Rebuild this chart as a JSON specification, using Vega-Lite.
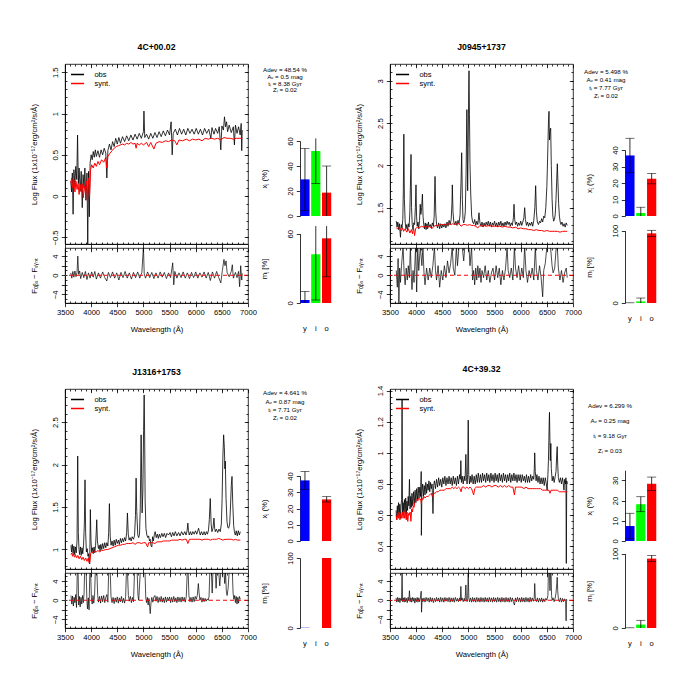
{
"$schema": "https://vega.github.io/schema/vega-lite/v6.json",
"background": "white",
"padding": {"left": 29, "top": 42, "right": 5, "bottom": 5},
"config": {
  "font": "Liberation Sans",
  "view": {"stroke": null},
  "axis": {"grid": false, "domainColor": "black", "domainWidth": 0.8, "tickColor": "black", "tickWidth": 0.8, "tickSize": 3.7, "labelColor": "black", "labelFontSize": 7.6, "labelPadding": 2, "titleColor": "black", "titleFontSize": 7.7, "titleFontWeight": "normal", "labelFont": "Liberation Sans", "titleFont": "Liberation Sans", "labelOverlap": false, "labelFlush": false},
  "legend": {"title": null, "orient": "top-left", "symbolType": "M-1,0H1.9", "symbolSize": 81, "symbolStrokeWidth": 1.5, "labelFontSize": 7.5, "labelFont": "Liberation Sans", "labelColor": "black", "labelOffset": 13.4, "rowPadding": 0, "padding": 0, "offset": 5},
  "title": {"fontSize": 8.7, "fontWeight": "bold", "offset": 12, "color": "black", "font": "Liberation Sans", "frame": "group"},
  "text": {"font": "Liberation Sans", "color": "black"}
},
"datasets": {
"o1": [{"w":3610,"f":0.18},{"w":3625,"f":0.05},{"w":3640,"f":0.28},{"w":3655,"f":-0.22},{"w":3670,"f":0.32},{"w":3690,"f":0.12},{"w":3705,"f":0.36},{"w":3725,"f":0.2},{"w":3740,"f":0.74},{"w":3755,"f":0.15},{"w":3770,"f":0.34},{"w":3790,"f":0.06},{"w":3810,"f":0.3},{"w":3830,"f":-0.14},{"w":3845,"f":0.26},{"w":3865,"f":0.1},{"w":3880,"f":0.34},{"w":3900,"f":-0.05},{"w":3920,"f":0.28},{"w":3935,"f":-0.58},{"w":3950,"f":0.3},{"w":3965,"f":-0.25},{"w":3980,"f":0.4},{"w":4000,"f":0.5},{"w":4020,"f":0.44},{"w":4040,"f":0.54},{"w":4060,"f":0.47},{"w":4080,"f":0.56},{"w":4100,"f":0.48},{"w":4130,"f":0.55},{"w":4160,"f":0.47},{"w":4190,"f":0.56},{"w":4220,"f":0.5},{"w":4250,"f":0.58},{"w":4280,"f":0.52},{"w":4300,"f":0.22},{"w":4320,"f":0.55},{"w":4350,"f":0.63},{"w":4380,"f":0.56},{"w":4410,"f":0.66},{"w":4440,"f":0.6},{"w":4470,"f":0.7},{"w":4500,"f":0.63},{"w":4530,"f":0.71},{"w":4560,"f":0.64},{"w":4600,"f":0.72},{"w":4640,"f":0.66},{"w":4680,"f":0.73},{"w":4720,"f":0.67},{"w":4760,"f":0.74},{"w":4800,"f":0.68},{"w":4840,"f":0.75},{"w":4880,"f":0.69},{"w":4920,"f":0.76},{"w":4960,"f":0.7},{"w":5000,"f":0.78},{"w":5010,"f":1.03},{"w":5025,"f":0.71},{"w":5060,"f":0.75},{"w":5100,"f":0.69},{"w":5140,"f":0.76},{"w":5180,"f":0.7},{"w":5220,"f":0.77},{"w":5260,"f":0.71},{"w":5300,"f":0.78},{"w":5340,"f":0.72},{"w":5380,"f":0.79},{"w":5420,"f":0.73},{"w":5460,"f":0.8},{"w":5500,"f":0.74},{"w":5530,"f":0.9},{"w":5550,"f":0.5},{"w":5570,"f":0.76},{"w":5610,"f":0.81},{"w":5650,"f":0.74},{"w":5690,"f":0.82},{"w":5730,"f":0.75},{"w":5770,"f":0.81},{"w":5810,"f":0.74},{"w":5850,"f":0.82},{"w":5890,"f":0.76},{"w":5930,"f":0.81},{"w":5970,"f":0.75},{"w":6010,"f":0.82},{"w":6050,"f":0.75},{"w":6090,"f":0.81},{"w":6130,"f":0.74},{"w":6170,"f":0.82},{"w":6210,"f":0.76},{"w":6250,"f":0.81},{"w":6290,"f":0.7},{"w":6310,"f":0.83},{"w":6350,"f":0.75},{"w":6380,"f":0.82},{"w":6420,"f":0.76},{"w":6450,"f":0.84},{"w":6480,"f":0.56},{"w":6500,"f":0.85},{"w":6530,"f":0.8},{"w":6550,"f":0.96},{"w":6570,"f":0.84},{"w":6590,"f":0.9},{"w":6610,"f":0.78},{"w":6640,"f":0.86},{"w":6680,"f":0.77},{"w":6720,"f":0.84},{"w":6740,"f":0.62},{"w":6760,"f":0.86},{"w":6790,"f":0.76},{"w":6820,"f":0.84},{"w":6850,"f":0.74},{"w":6870,"f":0.88},{"w":6880,"f":0.55},{"w":6890,"f":0.8}],
"s1": [{"w":3610,"f":0.16},{"w":3630,"f":0.22},{"w":3650,"f":0.1},{"w":3670,"f":0.2},{"w":3690,"f":0.05},{"w":3710,"f":0.18},{"w":3730,"f":0.08},{"w":3750,"f":0.15},{"w":3770,"f":0.02},{"w":3790,"f":0.14},{"w":3810,"f":0.05},{"w":3830,"f":0.15},{"w":3850,"f":-0.02},{"w":3870,"f":0.12},{"w":3890,"f":0.04},{"w":3910,"f":0.18},{"w":3930,"f":-0.08},{"w":3950,"f":0.22},{"w":3970,"f":0.0},{"w":3990,"f":0.32},{"w":4010,"f":0.38},{"w":4040,"f":0.34},{"w":4070,"f":0.4},{"w":4100,"f":0.36},{"w":4130,"f":0.42},{"w":4160,"f":0.38},{"w":4200,"f":0.44},{"w":4240,"f":0.41},{"w":4280,"f":0.47},{"w":4300,"f":0.34},{"w":4320,"f":0.48},{"w":4360,"f":0.52},{"w":4400,"f":0.55},{"w":4440,"f":0.58},{"w":4480,"f":0.6},{"w":4520,"f":0.61},{"w":4560,"f":0.62},{"w":4600,"f":0.63},{"w":4640,"f":0.62},{"w":4680,"f":0.64},{"w":4720,"f":0.63},{"w":4760,"f":0.65},{"w":4800,"f":0.63},{"w":4840,"f":0.64},{"w":4860,"f":0.58},{"w":4880,"f":0.64},{"w":4920,"f":0.62},{"w":4960,"f":0.64},{"w":5000,"f":0.62},{"w":5060,"f":0.65},{"w":5100,"f":0.6},{"w":5140,"f":0.65},{"w":5200,"f":0.57},{"w":5240,"f":0.64},{"w":5300,"f":0.66},{"w":5360,"f":0.65},{"w":5420,"f":0.67},{"w":5480,"f":0.66},{"w":5540,"f":0.68},{"w":5600,"f":0.67},{"w":5640,"f":0.62},{"w":5680,"f":0.68},{"w":5750,"f":0.67},{"w":5820,"f":0.69},{"w":5880,"f":0.67},{"w":5940,"f":0.69},{"w":6000,"f":0.68},{"w":6060,"f":0.69},{"w":6120,"f":0.67},{"w":6180,"f":0.7},{"w":6240,"f":0.69},{"w":6300,"f":0.7},{"w":6360,"f":0.69},{"w":6420,"f":0.7},{"w":6480,"f":0.68},{"w":6540,"f":0.71},{"w":6600,"f":0.7},{"w":6660,"f":0.7},{"w":6720,"f":0.69},{"w":6780,"f":0.7},{"w":6840,"f":0.7},{"w":6890,"f":0.7}],
"r1": [{"w":3610,"r":0.5},{"w":3630,"r":-0.6},{"w":3650,"r":0.8},{"w":3670,"r":-0.4},{"w":3690,"r":0.9},{"w":3710,"r":-0.3},{"w":3730,"r":0.6},{"w":3745,"r":4.0},{"w":3760,"r":0.2},{"w":3780,"r":0.9},{"w":3800,"r":-0.7},{"w":3830,"r":0.6},{"w":3860,"r":-0.5},{"w":3890,"r":0.8},{"w":3920,"r":-0.9},{"w":3950,"r":0.5},{"w":3980,"r":-0.6},{"w":4010,"r":0.7},{"w":4040,"r":-0.4},{"w":4070,"r":0.8},{"w":4100,"r":-0.8},{"w":4140,"r":0.5},{"w":4180,"r":-0.6},{"w":4220,"r":0.7},{"w":4260,"r":-0.5},{"w":4300,"r":-1.2},{"w":4330,"r":0.6},{"w":4370,"r":-0.5},{"w":4410,"r":0.7},{"w":4450,"r":-0.6},{"w":4490,"r":0.5},{"w":4530,"r":-1.0},{"w":4570,"r":0.6},{"w":4610,"r":-0.5},{"w":4650,"r":0.8},{"w":4690,"r":-0.6},{"w":4730,"r":0.5},{"w":4770,"r":-0.8},{"w":4810,"r":0.6},{"w":4850,"r":-0.5},{"w":4890,"r":0.7},{"w":4930,"r":-0.6},{"w":4970,"r":0.6},{"w":5000,"r":6.0},{"w":5015,"r":0.3},{"w":5040,"r":-0.6},{"w":5080,"r":0.7},{"w":5120,"r":-0.5},{"w":5160,"r":0.6},{"w":5200,"r":-0.7},{"w":5240,"r":0.5},{"w":5280,"r":-0.6},{"w":5320,"r":0.7},{"w":5360,"r":-0.4},{"w":5400,"r":0.6},{"w":5440,"r":-0.7},{"w":5480,"r":0.5},{"w":5520,"r":-0.5},{"w":5560,"r":2.6},{"w":5580,"r":-2.0},{"w":5600,"r":0.8},{"w":5640,"r":-0.6},{"w":5680,"r":0.5},{"w":5720,"r":-0.5},{"w":5760,"r":0.7},{"w":5800,"r":-0.6},{"w":5840,"r":0.5},{"w":5880,"r":-0.7},{"w":5920,"r":0.6},{"w":5960,"r":-0.5},{"w":6000,"r":0.7},{"w":6040,"r":-0.6},{"w":6080,"r":0.5},{"w":6120,"r":-0.4},{"w":6160,"r":0.7},{"w":6200,"r":-0.6},{"w":6240,"r":0.6},{"w":6280,"r":-1.1},{"w":6320,"r":0.7},{"w":6360,"r":-0.6},{"w":6400,"r":0.8},{"w":6440,"r":-0.5},{"w":6480,"r":-1.6},{"w":6510,"r":1.0},{"w":6540,"r":3.3},{"w":6560,"r":2.0},{"w":6580,"r":3.0},{"w":6600,"r":0.6},{"w":6640,"r":-0.3},{"w":6680,"r":0.8},{"w":6700,"r":2.2},{"w":6720,"r":-0.6},{"w":6760,"r":0.6},{"w":6790,"r":-0.5},{"w":6820,"r":0.8},{"w":6840,"r":-2.4},{"w":6860,"r":2.0},{"w":6880,"r":-1.0},{"w":6890,"r":0.4}],
"x1": [{"c":"y","v":29.3,"lo":4.5,"hi":54.1,"clo":4.5,"chi":54.1},{"c":"i","v":52,"lo":25.9,"hi":62.1,"clo":25.9},{"c":"o","v":18.7,"lo":0,"hi":40,"chi":40}],
"m1": [{"c":"y","v":2.6,"lo":0,"hi":10,"chi":10},{"c":"i","v":42.2,"lo":2.6,"hi":66.6,"clo":2.6},{"c":"o","v":56,"lo":22.7,"hi":66.6,"clo":22.7}],
"t1": [{"n":1,"t":"Adev = 48.54 %"},{"n":2,"t":"Aᵥ = 0.5 mag"},{"n":3,"t":"tₗ = 8.38 Gyr"},{"n":4,"t":"Zₗ = 0.02"}],
"o2": [{"w":3620,"f":1.34},{"w":3635,"f":1.27},{"w":3650,"f":1.33},{"w":3665,"f":1.24},{"w":3680,"f":1.31},{"w":3700,"f":1.15},{"w":3715,"f":1.3},{"w":3730,"f":1.26},{"w":3745,"f":1.36},{"w":3755,"f":1.7},{"w":3765,"f":2.37},{"w":3775,"f":1.6},{"w":3790,"f":1.33},{"w":3805,"f":1.25},{"w":3820,"f":1.3},{"w":3835,"f":1.23},{"w":3850,"f":1.31},{"w":3865,"f":1.27},{"w":3880,"f":1.45},{"w":3895,"f":1.9},{"w":3902,"f":2.13},{"w":3912,"f":1.5},{"w":3925,"f":1.3},{"w":3940,"f":1.24},{"w":3955,"f":1.32},{"w":3970,"f":1.3},{"w":3985,"f":1.5},{"w":3997,"f":1.77},{"w":4008,"f":1.4},{"w":4020,"f":1.28},{"w":4035,"f":1.33},{"w":4050,"f":1.25},{"w":4065,"f":1.35},{"w":4078,"f":1.54},{"w":4090,"f":1.42},{"w":4105,"f":1.5},{"w":4120,"f":1.66},{"w":4132,"f":1.4},{"w":4145,"f":1.3},{"w":4160,"f":1.25},{"w":4175,"f":1.32},{"w":4190,"f":1.24},{"w":4205,"f":1.31},{"w":4220,"f":1.25},{"w":4235,"f":1.33},{"w":4250,"f":1.27},{"w":4270,"f":1.3},{"w":4290,"f":1.26},{"w":4310,"f":1.32},{"w":4330,"f":1.28},{"w":4345,"f":1.4},{"w":4361,"f":1.87},{"w":4375,"f":1.45},{"w":4390,"f":1.3},{"w":4410,"f":1.26},{"w":4430,"f":1.32},{"w":4450,"f":1.25},{"w":4470,"f":1.31},{"w":4490,"f":1.26},{"w":4510,"f":1.3},{"w":4530,"f":1.27},{"w":4550,"f":1.31},{"w":4570,"f":1.26},{"w":4590,"f":1.33},{"w":4610,"f":1.28},{"w":4630,"f":1.35},{"w":4650,"f":1.3},{"w":4670,"f":1.36},{"w":4685,"f":1.55},{"w":4692,"f":1.77},{"w":4705,"f":1.45},{"w":4720,"f":1.33},{"w":4740,"f":1.3},{"w":4760,"f":1.34},{"w":4780,"f":1.29},{"w":4800,"f":1.35},{"w":4820,"f":1.31},{"w":4840,"f":1.42},{"w":4858,"f":1.8},{"w":4871,"f":2.15},{"w":4884,"f":1.6},{"w":4896,"f":1.36},{"w":4910,"f":1.32},{"w":4925,"f":1.36},{"w":4940,"f":1.45},{"w":4955,"f":1.9},{"w":4970,"f":2.66},{"w":4978,"f":2.3},{"w":4985,"f":1.7},{"w":4995,"f":2.2},{"w":5005,"f":2.9},{"w":5011,"f":3.12},{"w":5020,"f":2.6},{"w":5030,"f":2.01},{"w":5045,"f":1.65},{"w":5062,"f":1.4},{"w":5080,"f":1.33},{"w":5100,"f":1.31},{"w":5120,"f":1.36},{"w":5140,"f":1.29},{"w":5160,"f":1.34},{"w":5180,"f":1.3},{"w":5202,"f":1.44},{"w":5220,"f":1.32},{"w":5240,"f":1.28},{"w":5260,"f":1.33},{"w":5280,"f":1.27},{"w":5300,"f":1.32},{"w":5320,"f":1.28},{"w":5340,"f":1.33},{"w":5360,"f":1.29},{"w":5380,"f":1.34},{"w":5400,"f":1.28},{"w":5420,"f":1.33},{"w":5440,"f":1.27},{"w":5460,"f":1.32},{"w":5480,"f":1.29},{"w":5500,"f":1.34},{"w":5520,"f":1.28},{"w":5540,"f":1.32},{"w":5560,"f":1.27},{"w":5580,"f":1.33},{"w":5600,"f":1.29},{"w":5620,"f":1.34},{"w":5640,"f":1.28},{"w":5660,"f":1.32},{"w":5680,"f":1.28},{"w":5700,"f":1.33},{"w":5720,"f":1.29},{"w":5740,"f":1.34},{"w":5760,"f":1.3},{"w":5780,"f":1.33},{"w":5800,"f":1.28},{"w":5820,"f":1.32},{"w":5840,"f":1.29},{"w":5860,"f":1.38},{"w":5872,"f":1.54},{"w":5885,"f":1.36},{"w":5900,"f":1.3},{"w":5920,"f":1.33},{"w":5940,"f":1.28},{"w":5960,"f":1.32},{"w":5980,"f":1.29},{"w":6000,"f":1.34},{"w":6020,"f":1.29},{"w":6040,"f":1.33},{"w":6060,"f":1.38},{"w":6076,"f":1.5},{"w":6090,"f":1.36},{"w":6110,"f":1.29},{"w":6130,"f":1.33},{"w":6150,"f":1.28},{"w":6170,"f":1.32},{"w":6190,"f":1.29},{"w":6210,"f":1.33},{"w":6230,"f":1.28},{"w":6250,"f":1.35},{"w":6270,"f":1.5},{"w":6286,"f":1.76},{"w":6300,"f":1.45},{"w":6318,"f":1.33},{"w":6340,"f":1.3},{"w":6360,"f":1.34},{"w":6380,"f":1.32},{"w":6400,"f":1.37},{"w":6420,"f":1.33},{"w":6440,"f":1.4},{"w":6460,"f":1.38},{"w":6480,"f":1.5},{"w":6500,"f":1.75},{"w":6515,"f":2.1},{"w":6530,"f":2.5},{"w":6541,"f":2.64},{"w":6550,"f":2.3},{"w":6560,"f":2.4},{"w":6573,"f":2.44},{"w":6585,"f":2.0},{"w":6600,"f":1.6},{"w":6615,"f":1.4},{"w":6630,"f":1.34},{"w":6645,"f":1.36},{"w":6660,"f":1.42},{"w":6675,"f":1.6},{"w":6690,"f":1.85},{"w":6700,"f":2.02},{"w":6712,"f":1.8},{"w":6725,"f":1.55},{"w":6740,"f":1.4},{"w":6755,"f":1.33},{"w":6770,"f":1.3},{"w":6790,"f":1.33},{"w":6810,"f":1.28},{"w":6830,"f":1.31},{"w":6850,"f":1.27},{"w":6870,"f":1.32},{"w":6890,"f":1.29}],
"s2": [{"w":3620,"f":1.26},{"w":3650,"f":1.25},{"w":3680,"f":1.27},{"w":3700,"f":1.24},{"w":3720,"f":1.23},{"w":3740,"f":1.26},{"w":3760,"f":1.22},{"w":3790,"f":1.25},{"w":3820,"f":1.21},{"w":3850,"f":1.25},{"w":3880,"f":1.2},{"w":3910,"f":1.24},{"w":3930,"f":1.19},{"w":3950,"f":1.26},{"w":3970,"f":1.17},{"w":3990,"f":1.25},{"w":4020,"f":1.27},{"w":4060,"f":1.26},{"w":4100,"f":1.28},{"w":4140,"f":1.27},{"w":4180,"f":1.28},{"w":4220,"f":1.27},{"w":4260,"f":1.28},{"w":4300,"f":1.25},{"w":4340,"f":1.28},{"w":4380,"f":1.29},{"w":4420,"f":1.29},{"w":4460,"f":1.3},{"w":4500,"f":1.3},{"w":4540,"f":1.3},{"w":4580,"f":1.3},{"w":4620,"f":1.31},{"w":4660,"f":1.3},{"w":4700,"f":1.31},{"w":4740,"f":1.3},{"w":4780,"f":1.31},{"w":4820,"f":1.31},{"w":4860,"f":1.28},{"w":4900,"f":1.3},{"w":4940,"f":1.3},{"w":4980,"f":1.29},{"w":5020,"f":1.3},{"w":5060,"f":1.29},{"w":5100,"f":1.29},{"w":5140,"f":1.28},{"w":5180,"f":1.26},{"w":5220,"f":1.29},{"w":5260,"f":1.28},{"w":5300,"f":1.29},{"w":5350,"f":1.28},{"w":5400,"f":1.29},{"w":5450,"f":1.28},{"w":5500,"f":1.28},{"w":5550,"f":1.28},{"w":5600,"f":1.28},{"w":5650,"f":1.27},{"w":5700,"f":1.28},{"w":5750,"f":1.27},{"w":5800,"f":1.27},{"w":5850,"f":1.26},{"w":5900,"f":1.27},{"w":5950,"f":1.25},{"w":6000,"f":1.26},{"w":6050,"f":1.25},{"w":6100,"f":1.25},{"w":6150,"f":1.24},{"w":6200,"f":1.24},{"w":6250,"f":1.23},{"w":6300,"f":1.24},{"w":6350,"f":1.23},{"w":6400,"f":1.23},{"w":6450,"f":1.22},{"w":6500,"f":1.23},{"w":6550,"f":1.22},{"w":6600,"f":1.22},{"w":6650,"f":1.22},{"w":6700,"f":1.22},{"w":6750,"f":1.21},{"w":6800,"f":1.22},{"w":6850,"f":1.22},{"w":6890,"f":1.22}],
"r2": [{"w":3620,"r":1.0},{"w":3640,"r":-2.5},{"w":3655,"r":3.5},{"w":3670,"r":-5.8},{"w":3685,"r":1.5},{"w":3700,"r":-1.5},{"w":3720,"r":2.0},{"w":3750,"r":6.0},{"w":3770,"r":0.5},{"w":3790,"r":-2.0},{"w":3810,"r":1.5},{"w":3830,"r":-1.0},{"w":3850,"r":2.0},{"w":3870,"r":-0.5},{"w":3890,"r":6.0},{"w":3905,"r":0.5},{"w":3920,"r":-3.0},{"w":3940,"r":1.0},{"w":3960,"r":-1.5},{"w":3990,"r":6.0},{"w":4010,"r":-3.5},{"w":4030,"r":6.0},{"w":4050,"r":1.0},{"w":4080,"r":6.0},{"w":4110,"r":2.0},{"w":4130,"r":6.0},{"w":4150,"r":0.5},{"w":4170,"r":-2.0},{"w":4200,"r":1.5},{"w":4230,"r":-1.0},{"w":4260,"r":1.5},{"w":4290,"r":-0.5},{"w":4320,"r":2.0},{"w":4350,"r":6.0},{"w":4370,"r":1.0},{"w":4390,"r":-1.0},{"w":4420,"r":2.0},{"w":4450,"r":-2.5},{"w":4480,"r":1.0},{"w":4510,"r":-1.0},{"w":4540,"r":2.0},{"w":4570,"r":-0.5},{"w":4600,"r":3.0},{"w":4630,"r":0.5},{"w":4660,"r":2.5},{"w":4690,"r":6.0},{"w":4710,"r":1.5},{"w":4740,"r":0.0},{"w":4770,"r":6.0},{"w":4790,"r":2.0},{"w":4820,"r":6.0},{"w":4850,"r":6.0},{"w":4880,"r":6.0},{"w":4910,"r":3.0},{"w":4930,"r":6.0},{"w":4960,"r":6.0},{"w":4990,"r":6.0},{"w":5010,"r":6.0},{"w":5030,"r":2.0},{"w":5060,"r":6.0},{"w":5080,"r":-1.0},{"w":5100,"r":1.0},{"w":5120,"r":-2.0},{"w":5140,"r":1.5},{"w":5160,"r":-1.0},{"w":5180,"r":2.0},{"w":5200,"r":-0.5},{"w":5220,"r":1.5},{"w":5240,"r":-1.5},{"w":5260,"r":1.0},{"w":5290,"r":-0.5},{"w":5320,"r":2.0},{"w":5350,"r":-1.0},{"w":5380,"r":1.0},{"w":5410,"r":-1.5},{"w":5440,"r":0.5},{"w":5470,"r":1.5},{"w":5500,"r":-1.0},{"w":5530,"r":2.0},{"w":5560,"r":-0.5},{"w":5590,"r":1.5},{"w":5620,"r":-2.0},{"w":5650,"r":1.0},{"w":5680,"r":-1.0},{"w":5710,"r":1.5},{"w":5740,"r":6.0},{"w":5760,"r":1.0},{"w":5790,"r":-0.5},{"w":5820,"r":1.5},{"w":5850,"r":-1.0},{"w":5880,"r":6.0},{"w":5900,"r":1.5},{"w":5930,"r":-0.5},{"w":5960,"r":2.0},{"w":5990,"r":-1.0},{"w":6020,"r":1.5},{"w":6050,"r":-0.5},{"w":6075,"r":6.0},{"w":6100,"r":1.0},{"w":6130,"r":-1.5},{"w":6160,"r":1.0},{"w":6190,"r":-0.5},{"w":6220,"r":1.5},{"w":6250,"r":-1.0},{"w":6280,"r":6.0},{"w":6300,"r":1.0},{"w":6330,"r":-1.0},{"w":6360,"r":2.0},{"w":6390,"r":-0.5},{"w":6420,"r":-4.5},{"w":6440,"r":1.0},{"w":6470,"r":2.5},{"w":6500,"r":6.0},{"w":6520,"r":6.0},{"w":6545,"r":6.0},{"w":6570,"r":6.0},{"w":6600,"r":2.0},{"w":6620,"r":0.5},{"w":6650,"r":1.5},{"w":6680,"r":6.0},{"w":6700,"r":6.0},{"w":6720,"r":1.5},{"w":6750,"r":-1.0},{"w":6780,"r":1.0},{"w":6810,"r":-1.5},{"w":6840,"r":0.5},{"w":6870,"r":1.5},{"w":6890,"r":-0.5}],
"x2": [{"c":"y","v":36.7,"lo":26.2,"hi":47.1,"clo":26.2,"chi":47.1},{"c":"i","v":1.8,"lo":0,"hi":5.3,"chi":5.3},{"c":"o","v":22.6,"lo":19.5,"hi":25.8,"clo":19.5,"chi":25.8}],
"m2": [{"c":"y","v":0,"lo":0,"hi":0.3,"chi":0.3},{"c":"i","v":2.2,"lo":0,"hi":6.9,"chi":6.9},{"c":"o","v":96.3,"lo":92.1,"hi":100.5,"clo":92.1,"chi":100.5}],
"t2": [{"n":1,"t":"Adev = 5.498 %"},{"n":2,"t":"Aᵥ = 0.41 mag"},{"n":3,"t":"tₗ = 7.77 Gyr"},{"n":4,"t":"Zₗ = 0.02"}],
"o3": [{"w":3615,"f":1.05},{"w":3625,"f":0.97},{"w":3640,"f":1.06},{"w":3655,"f":0.95},{"w":3670,"f":1.04},{"w":3685,"f":0.94},{"w":3700,"f":1.03},{"w":3715,"f":0.96},{"w":3730,"f":1.1},{"w":3743,"f":2.1},{"w":3755,"f":1.2},{"w":3768,"f":1.0},{"w":3780,"f":0.94},{"w":3795,"f":1.03},{"w":3810,"f":0.93},{"w":3825,"f":1.02},{"w":3840,"f":0.95},{"w":3855,"f":1.05},{"w":3870,"f":1.3},{"w":3883,"f":1.82},{"w":3895,"f":1.2},{"w":3909,"f":0.97},{"w":3925,"f":1.01},{"w":3940,"f":0.92},{"w":3952,"f":0.95},{"w":3960,"f":0.87},{"w":3973,"f":0.83},{"w":3985,"f":1.47},{"w":3997,"f":1.1},{"w":4011,"f":0.97},{"w":4025,"f":1.02},{"w":4040,"f":0.95},{"w":4055,"f":1.03},{"w":4070,"f":0.96},{"w":4085,"f":1.05},{"w":4097,"f":1.2},{"w":4107,"f":1.35},{"w":4120,"f":1.1},{"w":4139,"f":1.01},{"w":4155,"f":1.05},{"w":4170,"f":0.98},{"w":4185,"f":1.06},{"w":4203,"f":1.0},{"w":4220,"f":1.07},{"w":4240,"f":1.01},{"w":4260,"f":1.08},{"w":4280,"f":1.02},{"w":4300,"f":1.08},{"w":4320,"f":1.04},{"w":4335,"f":1.2},{"w":4349,"f":1.54},{"w":4365,"f":1.15},{"w":4381,"f":1.05},{"w":4400,"f":1.1},{"w":4420,"f":1.04},{"w":4440,"f":1.11},{"w":4460,"f":1.05},{"w":4480,"f":1.12},{"w":4500,"f":1.07},{"w":4522,"f":1.11},{"w":4540,"f":1.06},{"w":4560,"f":1.13},{"w":4580,"f":1.08},{"w":4600,"f":1.13},{"w":4620,"f":1.09},{"w":4640,"f":1.14},{"w":4660,"f":1.1},{"w":4680,"f":1.2},{"w":4694,"f":1.43},{"w":4710,"f":1.18},{"w":4726,"f":1.11},{"w":4745,"f":1.14},{"w":4765,"f":1.1},{"w":4785,"f":1.15},{"w":4809,"f":1.12},{"w":4830,"f":1.16},{"w":4848,"f":1.4},{"w":4860,"f":1.84},{"w":4872,"f":1.45},{"w":4892,"f":1.17},{"w":4910,"f":1.14},{"w":4925,"f":1.18},{"w":4940,"f":1.5},{"w":4956,"f":2.35},{"w":4965,"f":1.9},{"w":4975,"f":1.43},{"w":4990,"f":1.7},{"w":5003,"f":2.4},{"w":5014,"f":2.82},{"w":5024,"f":2.3},{"w":5033,"f":1.57},{"w":5048,"f":1.25},{"w":5065,"f":1.17},{"w":5085,"f":1.14},{"w":5100,"f":1.16},{"w":5115,"f":1.1},{"w":5129,"f":1.12},{"w":5145,"f":1.04},{"w":5161,"f":1.03},{"w":5175,"f":1.15},{"w":5190,"f":1.1},{"w":5210,"f":1.18},{"w":5225,"f":1.21},{"w":5245,"f":1.14},{"w":5265,"f":1.18},{"w":5285,"f":1.13},{"w":5305,"f":1.18},{"w":5325,"f":1.14},{"w":5352,"f":1.19},{"w":5375,"f":1.15},{"w":5400,"f":1.19},{"w":5425,"f":1.14},{"w":5450,"f":1.19},{"w":5480,"f":1.17},{"w":5510,"f":1.2},{"w":5535,"f":1.15},{"w":5560,"f":1.2},{"w":5585,"f":1.16},{"w":5610,"f":1.21},{"w":5640,"f":1.16},{"w":5672,"f":1.2},{"w":5700,"f":1.16},{"w":5730,"f":1.21},{"w":5760,"f":1.17},{"w":5790,"f":1.21},{"w":5815,"f":1.17},{"w":5835,"f":1.22},{"w":5850,"f":1.31},{"w":5862,"f":1.22},{"w":5876,"f":1.17},{"w":5900,"f":1.21},{"w":5920,"f":1.17},{"w":5945,"f":1.21},{"w":5970,"f":1.18},{"w":5995,"f":1.22},{"w":6020,"f":1.18},{"w":6040,"f":1.22},{"w":6055,"f":1.25},{"w":6070,"f":1.21},{"w":6087,"f":1.17},{"w":6110,"f":1.21},{"w":6135,"f":1.17},{"w":6160,"f":1.21},{"w":6183,"f":1.17},{"w":6205,"f":1.21},{"w":6225,"f":1.18},{"w":6245,"f":1.23},{"w":6260,"f":1.35},{"w":6278,"f":1.6},{"w":6295,"f":1.3},{"w":6310,"f":1.21},{"w":6330,"f":1.25},{"w":6349,"f":1.37},{"w":6362,"f":1.25},{"w":6374,"f":1.21},{"w":6395,"f":1.24},{"w":6420,"f":1.2},{"w":6445,"f":1.24},{"w":6470,"f":1.21},{"w":6490,"f":1.3},{"w":6505,"f":1.6},{"w":6520,"f":2.1},{"w":6534,"f":2.35},{"w":6548,"f":2.2},{"w":6558,"f":1.95},{"w":6566,"f":2.04},{"w":6580,"f":1.6},{"w":6598,"f":1.33},{"w":6614,"f":1.26},{"w":6630,"f":1.25},{"w":6650,"f":1.3},{"w":6665,"f":1.5},{"w":6680,"f":1.75},{"w":6694,"f":1.86},{"w":6708,"f":1.55},{"w":6726,"f":1.28},{"w":6740,"f":1.21},{"w":6757,"f":1.17},{"w":6775,"f":1.22},{"w":6795,"f":1.16},{"w":6815,"f":1.22},{"w":6835,"f":1.17},{"w":6853,"f":1.21}],
"s3": [{"w":3615,"f":0.94},{"w":3630,"f":0.96},{"w":3645,"f":0.92},{"w":3660,"f":0.95},{"w":3680,"f":0.91},{"w":3700,"f":0.94},{"w":3720,"f":0.9},{"w":3745,"f":0.93},{"w":3770,"f":0.89},{"w":3795,"f":0.92},{"w":3820,"f":0.88},{"w":3845,"f":0.91},{"w":3870,"f":0.87},{"w":3895,"f":0.9},{"w":3920,"f":0.86},{"w":3945,"f":0.9},{"w":3960,"f":0.84},{"w":3975,"f":0.85},{"w":3990,"f":0.95},{"w":4010,"f":0.97},{"w":4040,"f":0.96},{"w":4070,"f":0.98},{"w":4100,"f":0.97},{"w":4130,"f":0.99},{"w":4160,"f":0.97},{"w":4200,"f":0.99},{"w":4240,"f":0.99},{"w":4280,"f":1.0},{"w":4320,"f":1.0},{"w":4360,"f":1.01},{"w":4400,"f":1.02},{"w":4440,"f":1.03},{"w":4480,"f":1.04},{"w":4520,"f":1.05},{"w":4560,"f":1.05},{"w":4600,"f":1.06},{"w":4640,"f":1.06},{"w":4680,"f":1.07},{"w":4720,"f":1.07},{"w":4760,"f":1.07},{"w":4800,"f":1.08},{"w":4840,"f":1.06},{"w":4880,"f":1.08},{"w":4920,"f":1.08},{"w":4960,"f":1.07},{"w":5000,"f":1.08},{"w":5040,"f":1.08},{"w":5080,"f":1.03},{"w":5100,"f":1.08},{"w":5140,"f":1.08},{"w":5180,"f":1.08},{"w":5220,"f":1.07},{"w":5260,"f":1.09},{"w":5300,"f":1.09},{"w":5340,"f":1.09},{"w":5380,"f":1.1},{"w":5420,"f":1.1},{"w":5460,"f":1.1},{"w":5500,"f":1.1},{"w":5540,"f":1.11},{"w":5580,"f":1.11},{"w":5620,"f":1.11},{"w":5660,"f":1.11},{"w":5700,"f":1.12},{"w":5740,"f":1.11},{"w":5780,"f":1.12},{"w":5820,"f":1.12},{"w":5850,"f":1.07},{"w":5880,"f":1.12},{"w":5920,"f":1.12},{"w":5960,"f":1.12},{"w":6000,"f":1.12},{"w":6040,"f":1.12},{"w":6080,"f":1.12},{"w":6120,"f":1.11},{"w":6160,"f":1.12},{"w":6200,"f":1.12},{"w":6240,"f":1.12},{"w":6280,"f":1.11},{"w":6320,"f":1.12},{"w":6360,"f":1.12},{"w":6400,"f":1.12},{"w":6440,"f":1.13},{"w":6480,"f":1.12},{"w":6520,"f":1.11},{"w":6560,"f":1.12},{"w":6600,"f":1.12},{"w":6640,"f":1.12},{"w":6680,"f":1.12},{"w":6720,"f":1.11},{"w":6760,"f":1.12},{"w":6800,"f":1.11},{"w":6853,"f":1.11}],
"r3": [{"w":3615,"r":1.0},{"w":3630,"r":-0.8},{"w":3645,"r":0.9},{"w":3660,"r":-1.2},{"w":3675,"r":0.6},{"w":3690,"r":-0.5},{"w":3705,"r":1.2},{"w":3720,"r":-1.5},{"w":3735,"r":6.0},{"w":3750,"r":6.0},{"w":3762,"r":-1.0},{"w":3775,"r":0.8},{"w":3790,"r":-1.4},{"w":3805,"r":0.6},{"w":3820,"r":-0.8},{"w":3835,"r":1.0},{"w":3850,"r":-0.5},{"w":3865,"r":1.5},{"w":3875,"r":6.0},{"w":3890,"r":6.0},{"w":3905,"r":6.0},{"w":3918,"r":0.2},{"w":3930,"r":-1.8},{"w":3945,"r":0.5},{"w":3960,"r":-2.0},{"w":3975,"r":6.0},{"w":3990,"r":6.0},{"w":4005,"r":0.5},{"w":4020,"r":-0.8},{"w":4035,"r":1.0},{"w":4050,"r":-0.6},{"w":4065,"r":0.8},{"w":4080,"r":6.0},{"w":4095,"r":6.0},{"w":4110,"r":6.0},{"w":4125,"r":1.0},{"w":4140,"r":-0.4},{"w":4160,"r":0.8},{"w":4180,"r":-0.6},{"w":4200,"r":0.9},{"w":4220,"r":-0.3},{"w":4240,"r":1.0},{"w":4260,"r":-0.5},{"w":4280,"r":0.6},{"w":4300,"r":1.2},{"w":4320,"r":-0.4},{"w":4335,"r":6.0},{"w":4350,"r":6.0},{"w":4365,"r":6.0},{"w":4380,"r":0.8},{"w":4400,"r":-0.5},{"w":4420,"r":0.6},{"w":4440,"r":-0.7},{"w":4460,"r":0.5},{"w":4480,"r":-0.4},{"w":4500,"r":0.7},{"w":4520,"r":-0.6},{"w":4540,"r":0.5},{"w":4560,"r":-0.3},{"w":4580,"r":0.8},{"w":4600,"r":-0.5},{"w":4620,"r":0.4},{"w":4640,"r":-0.6},{"w":4660,"r":0.8},{"w":4675,"r":6.0},{"w":4695,"r":6.0},{"w":4712,"r":1.0},{"w":4730,"r":-0.2},{"w":4750,"r":0.8},{"w":4770,"r":-0.5},{"w":4790,"r":0.6},{"w":4810,"r":-0.3},{"w":4830,"r":6.0},{"w":4850,"r":6.0},{"w":4865,"r":6.0},{"w":4880,"r":6.0},{"w":4895,"r":1.0},{"w":4910,"r":0.0},{"w":4925,"r":3.0},{"w":4940,"r":6.0},{"w":4955,"r":6.0},{"w":4970,"r":6.0},{"w":4985,"r":6.0},{"w":5000,"r":6.0},{"w":5015,"r":6.0},{"w":5030,"r":6.0},{"w":5045,"r":0.5},{"w":5060,"r":-0.5},{"w":5075,"r":0.6},{"w":5090,"r":-1.0},{"w":5105,"r":0.4},{"w":5120,"r":-1.5},{"w":5130,"r":-2.8},{"w":5145,"r":-0.5},{"w":5160,"r":0.6},{"w":5180,"r":-0.4},{"w":5200,"r":0.7},{"w":5220,"r":1.0},{"w":5240,"r":-0.2},{"w":5260,"r":0.8},{"w":5280,"r":-0.5},{"w":5300,"r":0.6},{"w":5320,"r":-0.3},{"w":5340,"r":0.8},{"w":5360,"r":-0.4},{"w":5380,"r":0.5},{"w":5400,"r":-0.5},{"w":5420,"r":0.7},{"w":5440,"r":-0.4},{"w":5460,"r":0.6},{"w":5480,"r":0.0},{"w":5500,"r":0.7},{"w":5520,"r":-0.5},{"w":5540,"r":0.6},{"w":5560,"r":-0.4},{"w":5580,"r":0.8},{"w":5600,"r":-0.3},{"w":5620,"r":0.5},{"w":5640,"r":-0.5},{"w":5660,"r":0.7},{"w":5680,"r":-0.3},{"w":5700,"r":0.6},{"w":5720,"r":-0.4},{"w":5740,"r":0.7},{"w":5760,"r":-0.2},{"w":5780,"r":0.6},{"w":5800,"r":-0.4},{"w":5820,"r":0.8},{"w":5838,"r":6.0},{"w":5855,"r":6.0},{"w":5870,"r":1.0},{"w":5890,"r":-0.3},{"w":5910,"r":0.6},{"w":5930,"r":-0.4},{"w":5950,"r":0.7},{"w":5970,"r":-0.3},{"w":5990,"r":0.8},{"w":6010,"r":0.2},{"w":6030,"r":1.0},{"w":6050,"r":3.5},{"w":6065,"r":1.5},{"w":6080,"r":0.0},{"w":6100,"r":0.6},{"w":6120,"r":-0.4},{"w":6140,"r":0.5},{"w":6160,"r":-0.3},{"w":6180,"r":0.4},{"w":6200,"r":-0.2},{"w":6220,"r":0.3},{"w":6240,"r":0.0},{"w":6255,"r":0.8},{"w":6270,"r":6.0},{"w":6285,"r":6.0},{"w":6300,"r":6.0},{"w":6315,"r":1.5},{"w":6330,"r":6.0},{"w":6345,"r":6.0},{"w":6360,"r":6.0},{"w":6375,"r":6.0},{"w":6390,"r":2.5},{"w":6405,"r":6.0},{"w":6420,"r":6.0},{"w":6440,"r":6.0},{"w":6460,"r":3.0},{"w":6480,"r":6.0},{"w":6500,"r":6.0},{"w":6520,"r":6.0},{"w":6540,"r":6.0},{"w":6555,"r":3.5},{"w":6570,"r":6.0},{"w":6585,"r":2.0},{"w":6600,"r":1.0},{"w":6620,"r":2.5},{"w":6640,"r":6.0},{"w":6660,"r":6.0},{"w":6680,"r":6.0},{"w":6700,"r":6.0},{"w":6715,"r":1.5},{"w":6730,"r":0.2},{"w":6745,"r":1.0},{"w":6760,"r":-0.5},{"w":6775,"r":0.8},{"w":6790,"r":-0.8},{"w":6805,"r":0.6},{"w":6820,"r":-0.6},{"w":6835,"r":0.8},{"w":6853,"r":0.2}],
"x3": [{"c":"y","v":37.3,"lo":31.8,"hi":42.8,"clo":31.8,"chi":42.8},{"c":"i","v":0},{"c":"o","v":25.6,"lo":24,"hi":27.3,"clo":24,"chi":27.3}],
"m3": [{"c":"y","v":0.4},{"c":"i","v":0},{"c":"o","v":100}],
"t3": [{"n":1,"t":"Adev = 4.641 %"},{"n":2,"t":"Aᵥ = 0.87 mag"},{"n":3,"t":"tₗ = 7.71 Gyr"},{"n":4,"t":"Zₗ = 0.02"}],
"o4": [{"w":3616,"f":0.63},{"w":3628,"f":0.57},{"w":3640,"f":0.66},{"w":3652,"f":0.59},{"w":3664,"f":0.68},{"w":3676,"f":0.6},{"w":3688,"f":0.67},{"w":3700,"f":0.58},{"w":3712,"f":0.66},{"w":3722,"f":0.7},{"w":3731,"f":1.34},{"w":3740,"f":0.6},{"w":3752,"f":0.68},{"w":3764,"f":0.61},{"w":3776,"f":0.7},{"w":3788,"f":0.62},{"w":3800,"f":0.71},{"w":3812,"f":0.6},{"w":3824,"f":0.69},{"w":3836,"f":0.63},{"w":3848,"f":0.72},{"w":3860,"f":0.66},{"w":3872,"f":0.83},{"w":3884,"f":0.64},{"w":3896,"f":0.72},{"w":3908,"f":0.65},{"w":3920,"f":0.74},{"w":3935,"f":0.66},{"w":3950,"f":0.75},{"w":3965,"f":0.67},{"w":3980,"f":0.76},{"w":3995,"f":0.68},{"w":4010,"f":0.77},{"w":4025,"f":0.7},{"w":4040,"f":0.78},{"w":4055,"f":0.71},{"w":4070,"f":0.78},{"w":4085,"f":0.72},{"w":4097,"f":0.88},{"w":4100,"f":0.47},{"w":4110,"f":0.74},{"w":4125,"f":0.8},{"w":4140,"f":0.72},{"w":4155,"f":0.79},{"w":4170,"f":0.73},{"w":4185,"f":0.81},{"w":4200,"f":0.74},{"w":4215,"f":0.8},{"w":4230,"f":0.76},{"w":4245,"f":0.82},{"w":4260,"f":0.75},{"w":4275,"f":0.81},{"w":4290,"f":0.77},{"w":4305,"f":0.8},{"w":4322,"f":0.61},{"w":4335,"f":0.79},{"w":4350,"f":0.82},{"w":4370,"f":0.77},{"w":4390,"f":0.83},{"w":4410,"f":0.78},{"w":4430,"f":0.84},{"w":4450,"f":0.79},{"w":4470,"f":0.83},{"w":4490,"f":0.78},{"w":4510,"f":0.84},{"w":4530,"f":0.8},{"w":4550,"f":0.85},{"w":4570,"f":0.79},{"w":4590,"f":0.84},{"w":4610,"f":0.8},{"w":4630,"f":0.85},{"w":4650,"f":0.8},{"w":4670,"f":0.84},{"w":4690,"f":0.79},{"w":4710,"f":0.85},{"w":4730,"f":0.8},{"w":4750,"f":0.84},{"w":4770,"f":0.79},{"w":4790,"f":0.85},{"w":4810,"f":0.8},{"w":4830,"f":0.86},{"w":4845,"f":0.83},{"w":4855,"f":0.95},{"w":4866,"f":0.81},{"w":4881,"f":0.85},{"w":4900,"f":0.8},{"w":4920,"f":0.85},{"w":4935,"f":0.82},{"w":4951,"f":0.99},{"w":4962,"f":0.84},{"w":4975,"f":0.8},{"w":4985,"f":0.86},{"w":4996,"f":1.21},{"w":5006,"f":0.86},{"w":5020,"f":0.8},{"w":5035,"f":0.85},{"w":5050,"f":0.81},{"w":5070,"f":0.86},{"w":5090,"f":0.8},{"w":5110,"f":0.85},{"w":5130,"f":0.8},{"w":5150,"f":0.86},{"w":5170,"f":0.81},{"w":5189,"f":0.87},{"w":5210,"f":0.81},{"w":5230,"f":0.86},{"w":5250,"f":0.81},{"w":5270,"f":0.87},{"w":5290,"f":0.82},{"w":5310,"f":0.86},{"w":5330,"f":0.81},{"w":5350,"f":0.87},{"w":5370,"f":0.82},{"w":5390,"f":0.86},{"w":5410,"f":0.81},{"w":5430,"f":0.87},{"w":5450,"f":0.82},{"w":5470,"f":0.86},{"w":5490,"f":0.81},{"w":5510,"f":0.87},{"w":5530,"f":0.82},{"w":5550,"f":0.86},{"w":5570,"f":0.81},{"w":5590,"f":0.87},{"w":5610,"f":0.82},{"w":5630,"f":0.86},{"w":5650,"f":0.81},{"w":5670,"f":0.87},{"w":5690,"f":0.82},{"w":5710,"f":0.86},{"w":5730,"f":0.81},{"w":5750,"f":0.86},{"w":5770,"f":0.82},{"w":5790,"f":0.87},{"w":5810,"f":0.81},{"w":5830,"f":0.86},{"w":5850,"f":0.82},{"w":5870,"f":0.87},{"w":5890,"f":0.82},{"w":5910,"f":0.86},{"w":5930,"f":0.81},{"w":5950,"f":0.86},{"w":5970,"f":0.82},{"w":5990,"f":0.86},{"w":6010,"f":0.81},{"w":6030,"f":0.86},{"w":6050,"f":0.82},{"w":6070,"f":0.85},{"w":6090,"f":0.81},{"w":6110,"f":0.86},{"w":6130,"f":0.81},{"w":6150,"f":0.85},{"w":6170,"f":0.81},{"w":6190,"f":0.86},{"w":6210,"f":0.82},{"w":6230,"f":0.85},{"w":6250,"f":0.83},{"w":6260,"f":0.9},{"w":6268,"f":1.0},{"w":6278,"f":0.88},{"w":6294,"f":0.82},{"w":6310,"f":0.86},{"w":6330,"f":0.81},{"w":6350,"f":0.85},{"w":6370,"f":0.8},{"w":6390,"f":0.84},{"w":6410,"f":0.8},{"w":6430,"f":0.84},{"w":6450,"f":0.79},{"w":6470,"f":0.84},{"w":6490,"f":0.8},{"w":6506,"f":0.76},{"w":6520,"f":0.86},{"w":6530,"f":0.95},{"w":6538,"f":1.08},{"w":6545,"f":1.2},{"w":6550,"f":1.26},{"w":6558,"f":1.1},{"w":6566,"f":0.95},{"w":6576,"f":1.06},{"w":6585,"f":0.9},{"w":6602,"f":0.82},{"w":6620,"f":0.85},{"w":6640,"f":0.81},{"w":6660,"f":0.85},{"w":6675,"f":0.88},{"w":6690,"f":1.0},{"w":6698,"f":1.04},{"w":6708,"f":0.92},{"w":6720,"f":0.84},{"w":6740,"f":0.81},{"w":6760,"f":0.84},{"w":6780,"f":0.8},{"w":6800,"f":0.84},{"w":6815,"f":0.8},{"w":6827,"f":0.76},{"w":6840,"f":0.83},{"w":6855,"f":0.8},{"w":6865,"f":0.84},{"w":6872,"f":0.29},{"w":6880,"f":0.82},{"w":6891,"f":0.8}],
"s4": [{"w":3616,"f":0.6},{"w":3630,"f":0.57},{"w":3645,"f":0.61},{"w":3660,"f":0.58},{"w":3675,"f":0.62},{"w":3690,"f":0.57},{"w":3705,"f":0.61},{"w":3720,"f":0.58},{"w":3735,"f":0.62},{"w":3750,"f":0.58},{"w":3765,"f":0.63},{"w":3780,"f":0.58},{"w":3795,"f":0.62},{"w":3810,"f":0.57},{"w":3825,"f":0.62},{"w":3840,"f":0.56},{"w":3855,"f":0.61},{"w":3870,"f":0.6},{"w":3885,"f":0.62},{"w":3900,"f":0.56},{"w":3915,"f":0.64},{"w":3930,"f":0.62},{"w":3945,"f":0.66},{"w":3960,"f":0.65},{"w":3975,"f":0.68},{"w":3990,"f":0.69},{"w":4010,"f":0.7},{"w":4030,"f":0.69},{"w":4050,"f":0.71},{"w":4070,"f":0.7},{"w":4090,"f":0.7},{"w":4100,"f":0.67},{"w":4110,"f":0.71},{"w":4130,"f":0.7},{"w":4150,"f":0.72},{"w":4170,"f":0.71},{"w":4200,"f":0.72},{"w":4230,"f":0.72},{"w":4260,"f":0.73},{"w":4290,"f":0.74},{"w":4310,"f":0.72},{"w":4330,"f":0.74},{"w":4360,"f":0.74},{"w":4390,"f":0.75},{"w":4420,"f":0.75},{"w":4450,"f":0.76},{"w":4480,"f":0.76},{"w":4510,"f":0.76},{"w":4540,"f":0.76},{"w":4570,"f":0.77},{"w":4600,"f":0.77},{"w":4630,"f":0.77},{"w":4660,"f":0.77},{"w":4690,"f":0.78},{"w":4720,"f":0.77},{"w":4750,"f":0.78},{"w":4780,"f":0.77},{"w":4810,"f":0.78},{"w":4840,"f":0.77},{"w":4860,"f":0.75},{"w":4880,"f":0.78},{"w":4910,"f":0.78},{"w":4940,"f":0.77},{"w":4970,"f":0.78},{"w":5000,"f":0.77},{"w":5030,"f":0.78},{"w":5060,"f":0.77},{"w":5080,"f":0.75},{"w":5100,"f":0.73},{"w":5120,"f":0.77},{"w":5150,"f":0.78},{"w":5180,"f":0.78},{"w":5210,"f":0.78},{"w":5250,"f":0.78},{"w":5290,"f":0.79},{"w":5330,"f":0.78},{"w":5370,"f":0.79},{"w":5410,"f":0.79},{"w":5450,"f":0.78},{"w":5490,"f":0.79},{"w":5530,"f":0.79},{"w":5570,"f":0.78},{"w":5610,"f":0.79},{"w":5650,"f":0.78},{"w":5690,"f":0.79},{"w":5730,"f":0.78},{"w":5770,"f":0.79},{"w":5810,"f":0.78},{"w":5850,"f":0.78},{"w":5880,"f":0.73},{"w":5900,"f":0.78},{"w":5940,"f":0.78},{"w":5980,"f":0.78},{"w":6020,"f":0.78},{"w":6060,"f":0.77},{"w":6100,"f":0.78},{"w":6140,"f":0.77},{"w":6180,"f":0.77},{"w":6220,"f":0.77},{"w":6260,"f":0.77},{"w":6300,"f":0.77},{"w":6340,"f":0.77},{"w":6380,"f":0.77},{"w":6420,"f":0.76},{"w":6460,"f":0.76},{"w":6500,"f":0.76},{"w":6540,"f":0.76},{"w":6560,"f":0.74},{"w":6580,"f":0.76},{"w":6620,"f":0.76},{"w":6660,"f":0.76},{"w":6700,"f":0.76},{"w":6740,"f":0.75},{"w":6780,"f":0.75},{"w":6820,"f":0.75},{"w":6860,"f":0.75},{"w":6891,"f":0.75}],
"r4": [{"w":3616,"r":0.5},{"w":3630,"r":-0.4},{"w":3645,"r":0.6},{"w":3660,"r":-0.3},{"w":3675,"r":0.5},{"w":3690,"r":-0.5},{"w":3705,"r":0.4},{"w":3720,"r":0.0},{"w":3731,"r":6.0},{"w":3742,"r":-0.3},{"w":3755,"r":0.5},{"w":3770,"r":-0.4},{"w":3785,"r":0.6},{"w":3800,"r":-0.3},{"w":3815,"r":0.4},{"w":3830,"r":-0.5},{"w":3845,"r":0.6},{"w":3860,"r":0.0},{"w":3872,"r":2.0},{"w":3885,"r":-0.3},{"w":3900,"r":0.5},{"w":3915,"r":-0.4},{"w":3930,"r":0.6},{"w":3945,"r":-0.2},{"w":3960,"r":0.5},{"w":3975,"r":-0.6},{"w":3990,"r":0.4},{"w":4005,"r":-0.3},{"w":4020,"r":0.6},{"w":4035,"r":-0.4},{"w":4050,"r":0.5},{"w":4065,"r":-0.3},{"w":4080,"r":0.4},{"w":4097,"r":1.9},{"w":4103,"r":-2.5},{"w":4115,"r":0.4},{"w":4130,"r":-0.3},{"w":4150,"r":0.5},{"w":4170,"r":-0.4},{"w":4190,"r":0.6},{"w":4210,"r":-0.2},{"w":4230,"r":0.5},{"w":4250,"r":-0.4},{"w":4270,"r":0.6},{"w":4290,"r":-0.3},{"w":4310,"r":0.5},{"w":4330,"r":-0.5},{"w":4350,"r":0.4},{"w":4370,"r":-0.3},{"w":4390,"r":0.6},{"w":4410,"r":-0.2},{"w":4430,"r":0.5},{"w":4450,"r":-0.4},{"w":4470,"r":0.6},{"w":4490,"r":-0.3},{"w":4510,"r":0.5},{"w":4530,"r":-0.4},{"w":4550,"r":0.6},{"w":4570,"r":-0.2},{"w":4590,"r":0.5},{"w":4610,"r":-0.3},{"w":4630,"r":0.6},{"w":4650,"r":-0.4},{"w":4670,"r":0.5},{"w":4690,"r":-0.3},{"w":4710,"r":0.5},{"w":4730,"r":-0.4},{"w":4750,"r":0.6},{"w":4770,"r":-0.2},{"w":4790,"r":0.4},{"w":4810,"r":-0.3},{"w":4830,"r":0.5},{"w":4845,"r":-0.2},{"w":4855,"r":2.9},{"w":4866,"r":0.0},{"w":4880,"r":0.5},{"w":4900,"r":-0.3},{"w":4920,"r":0.4},{"w":4935,"r":-0.2},{"w":4951,"r":3.2},{"w":4962,"r":0.2},{"w":4975,"r":-0.3},{"w":4985,"r":0.4},{"w":4996,"r":6.0},{"w":5008,"r":0.5},{"w":5020,"r":-0.3},{"w":5040,"r":0.5},{"w":5060,"r":-0.4},{"w":5080,"r":0.6},{"w":5100,"r":-0.3},{"w":5120,"r":0.5},{"w":5140,"r":-0.4},{"w":5160,"r":0.6},{"w":5180,"r":-0.3},{"w":5200,"r":0.5},{"w":5220,"r":-0.4},{"w":5240,"r":0.6},{"w":5260,"r":-0.3},{"w":5280,"r":0.5},{"w":5300,"r":-0.4},{"w":5320,"r":0.6},{"w":5340,"r":-0.3},{"w":5360,"r":0.5},{"w":5380,"r":-0.4},{"w":5400,"r":0.6},{"w":5420,"r":-0.3},{"w":5440,"r":0.5},{"w":5460,"r":-0.4},{"w":5480,"r":0.6},{"w":5500,"r":-0.3},{"w":5520,"r":0.5},{"w":5540,"r":-0.4},{"w":5560,"r":0.6},{"w":5580,"r":-0.3},{"w":5600,"r":0.5},{"w":5620,"r":-0.4},{"w":5640,"r":0.6},{"w":5660,"r":-0.3},{"w":5680,"r":0.5},{"w":5700,"r":-0.4},{"w":5720,"r":0.6},{"w":5740,"r":-0.3},{"w":5760,"r":0.5},{"w":5780,"r":-0.4},{"w":5800,"r":0.6},{"w":5820,"r":-0.3},{"w":5840,"r":0.5},{"w":5860,"r":-0.4},{"w":5880,"r":-1.0},{"w":5900,"r":0.5},{"w":5920,"r":-0.3},{"w":5940,"r":0.6},{"w":5960,"r":-0.3},{"w":5980,"r":0.5},{"w":6000,"r":-0.4},{"w":6020,"r":0.6},{"w":6040,"r":-0.3},{"w":6060,"r":0.5},{"w":6080,"r":-0.4},{"w":6100,"r":0.6},{"w":6120,"r":-0.3},{"w":6140,"r":0.5},{"w":6160,"r":-0.4},{"w":6180,"r":0.6},{"w":6200,"r":-0.3},{"w":6220,"r":0.5},{"w":6240,"r":-0.2},{"w":6258,"r":0.5},{"w":6268,"r":3.5},{"w":6280,"r":0.3},{"w":6300,"r":-0.3},{"w":6320,"r":0.5},{"w":6340,"r":-0.4},{"w":6360,"r":0.4},{"w":6380,"r":-0.3},{"w":6400,"r":0.5},{"w":6420,"r":-0.4},{"w":6440,"r":0.3},{"w":6460,"r":-0.3},{"w":6480,"r":0.4},{"w":6500,"r":0.0},{"w":6520,"r":1.0},{"w":6530,"r":6.0},{"w":6540,"r":6.0},{"w":6550,"r":6.0},{"w":6560,"r":2.0},{"w":6570,"r":6.0},{"w":6580,"r":6.0},{"w":6590,"r":1.0},{"w":6602,"r":0.0},{"w":6620,"r":0.5},{"w":6640,"r":-0.3},{"w":6660,"r":0.5},{"w":6675,"r":1.5},{"w":6690,"r":3.5},{"w":6698,"r":4.8},{"w":6708,"r":2.0},{"w":6720,"r":0.3},{"w":6740,"r":-0.3},{"w":6760,"r":0.5},{"w":6780,"r":-0.4},{"w":6800,"r":0.4},{"w":6820,"r":-0.3},{"w":6840,"r":0.3},{"w":6860,"r":-0.2},{"w":6868,"r":-4.3},{"w":6875,"r":0.2},{"w":6891,"r":0.0}],
"x4": [{"c":"y","v":7.4,"lo":1.1,"hi":13.7,"clo":1.1,"chi":13.7},{"c":"i","v":18.2,"lo":14.5,"hi":21.9,"clo":14.5,"chi":21.9},{"c":"o","v":28.3,"lo":25,"hi":31.6,"clo":25,"chi":31.6}],
"m4": [{"c":"y","v":0,"lo":0,"hi":0.3,"chi":0.3},{"c":"i","v":4.6,"lo":0,"hi":10.3,"chi":10.3},{"c":"o","v":93.3,"lo":89.3,"hi":97.5,"clo":89.3,"chi":97.5}],
"t4": [{"n":1,"t":"Adev = 6.299 %"},{"n":2,"t":"Aᵥ = 0.25 mag"},{"n":3,"t":"tₗ = 9.18 Gyr"},{"n":4,"t":"Zₗ = 0.03"}]
},
"columns": 4,
"align": "none",
"bounds": "flush",
"spacing": {"row": 4, "column": 52},
"resolve": {"scale": {"color": "independent"}},
"concat": [
{"width": 183, "height": 180, "view": {"stroke": "black", "strokeWidth": 0.8}, "title": {"text": "4C+00.02"},
 "resolve": {"axis": {"x": "independent", "y": "independent"}},
 "layer": [
  {"data": {"name": "o1"}, "mark": {"type": "line", "strokeWidth": 0.8, "clip": true},
   "encoding": {"x": {"field": "w", "type": "quantitative", "scale": {"domain": [3500, 7000], "nice": false, "zero": false}, "axis": {"orient": "bottom", "values": [3500,4000,4500,5000,5500,6000,6500,7000], "labels": false, "title": null}},
    "y": {"field": "f", "type": "quantitative", "scale": {"domain": [-0.58, 1.6], "nice": false, "zero": false}, "axis": {"orient": "left", "values": [-0.5,0,0.5,1,1.5], "format": "~g", "labelAngle": -90, "labelAlign": "center", "labelBaseline": "bottom", "title": "Log Flux (1x10⁻¹⁷erg/cm²/s/Å)", "titlePadding": 13}},
    "color": {"datum": "obs", "type": "nominal", "scale": {"domain": ["obs", "synt."], "range": ["black", "#ff0000"]}, "legend": {"orient": "top-left"}}}},
  {"data": {"name": "s1"}, "mark": {"type": "line", "strokeWidth": 1, "clip": true},
   "encoding": {"x": {"field": "w", "type": "quantitative", "axis": null}, "y": {"field": "f", "type": "quantitative", "axis": null}, "color": {"datum": "synt.", "type": "nominal"}}},
  {"data": {"name": "s1"}, "mark": {"type": "point", "opacity": 0},
   "encoding": {"x": {"field": "w", "type": "quantitative", "axis": {"orient": "top", "values": [3500,4000,4500,5000,5500,6000,6500,7000], "labels": false, "domain": false, "title": null, "tickSize": -3.7}},
    "y": {"field": "f", "type": "quantitative", "axis": {"orient": "right", "values": [-0.5,0,0.5,1,1.5], "labels": false, "domain": false, "title": null, "tickSize": -3.7}}}},
  {"data": {"name": "s1"}, "mark": {"type": "point", "opacity": 0},
   "encoding": {"x": {"field": "w", "type": "quantitative", "axis": {"orient": "top", "values": [3600,3700,3800,3900,4000,4100,4200,4300,4400,4500,4600,4700,4800,4900,5000,5100,5200,5300,5400,5500,5600,5700,5800,5900,6000,6100,6200,6300,6400,6500,6600,6700,6800,6900], "labels": false, "domain": false, "title": null, "tickSize": -2}},
    "y": {"field": "f", "type": "quantitative", "axis": {"orient": "right", "values": [-0.5,-0.4,-0.3,-0.2,-0.1,0,0.1,0.2,0.3,0.4,0.5,0.6,0.7,0.8,0.9,1,1.1,1.2,1.3,1.4,1.5], "labels": false, "domain": false, "title": null, "tickSize": -2}}}},
  {"data": {"name": "s1"}, "mark": {"type": "point", "opacity": 0},
   "encoding": {"x": {"field": "w", "type": "quantitative", "axis": {"orient": "bottom", "values": [3600,3700,3800,3900,4000,4100,4200,4300,4400,4500,4600,4700,4800,4900,5000,5100,5200,5300,5400,5500,5600,5700,5800,5900,6000,6100,6200,6300,6400,6500,6600,6700,6800,6900], "labels": false, "domain": false, "title": null, "tickSize": -2}},
    "y": {"field": "f", "type": "quantitative", "axis": {"orient": "left", "values": [-0.5,-0.4,-0.3,-0.2,-0.1,0,0.1,0.2,0.3,0.4,0.5,0.6,0.7,0.8,0.9,1,1.1,1.2,1.3,1.4,1.5], "labels": false, "domain": false, "title": null, "tickSize": -2}}}}
 ]},
{"width": 38, "height": 180, "resolve": {"scale": {"y": "independent"}},
 "layer": [
  {"data": {"name": "t1"}, "mark": {"type": "text", "fontSize": 6.2, "dx": -34, "align": "center", "baseline": "middle"},
   "encoding": {"y": {"field": "n", "type": "quantitative", "scale": {"domain": [1, 4], "range": [6.3, 26.3], "nice": false, "zero": false}, "axis": null}, "text": {"field": "t"}}},
  {"data": {"name": "x1"},
   "encoding": {"x": {"field": "c", "type": "nominal", "sort": ["y","i","o"], "scale": {"domain": ["y","i","o"], "paddingInner": 0.15, "paddingOuter": 0.33, "align": 0.05}, "axis": null}},
   "layer": [
    {"mark": {"type": "bar"}, "encoding": {"y": {"field": "v", "type": "quantitative", "scale": {"domain": [0, 60], "range": [152, 77], "nice": false, "zero": false}, "axis": {"orient": "left", "values": [0,10,20,30,40,50,60], "format": "d", "labelExpr": "indexof([0,20,40,60], datum.value) >= 0 ? datum.label : ''", "labelAngle": -90, "labelAlign": "center", "labelBaseline": "bottom", "title": "xⱼ (%)", "titlePadding": 18}}, "color": {"field": "c", "type": "nominal", "scale": {"domain": ["y","i","o"], "range": ["#0000ff","#00ff00","#ff0000"]}, "legend": null}}},
    {"mark": {"type": "rule", "color": "black", "strokeWidth": 0.8}, "encoding": {"y": {"field": "lo", "type": "quantitative"}, "y2": {"field": "hi"}}},
    {"mark": {"type": "tick", "color": "black", "thickness": 0.8, "size": 9}, "encoding": {"y": {"field": "clo", "type": "quantitative"}}},
    {"mark": {"type": "tick", "color": "black", "thickness": 0.8, "size": 9}, "encoding": {"y": {"field": "chi", "type": "quantitative"}}}
   ]}
 ]},
{"width": 183, "height": 180, "view": {"stroke": "black", "strokeWidth": 0.8}, "title": {"text": "J0945+1737"},
 "resolve": {"axis": {"x": "independent", "y": "independent"}},
 "layer": [
  {"data": {"name": "o2"}, "mark": {"type": "line", "strokeWidth": 0.8, "clip": true},
   "encoding": {"x": {"field": "w", "type": "quantitative", "scale": {"domain": [3500, 7000], "nice": false, "zero": false}, "axis": {"orient": "bottom", "values": [3500,4000,4500,5000,5500,6000,6500,7000], "labels": false, "title": null}},
    "y": {"field": "f", "type": "quantitative", "scale": {"domain": [1.07, 3.2], "nice": false, "zero": false}, "axis": {"orient": "left", "values": [1.5,2,2.5,3], "format": "~g", "labelAngle": -90, "labelAlign": "center", "labelBaseline": "bottom", "title": "Log Flux (1x10⁻¹⁷erg/cm²/s/Å)", "titlePadding": 13}},
    "color": {"datum": "obs", "type": "nominal", "scale": {"domain": ["obs", "synt."], "range": ["black", "#ff0000"]}, "legend": {"orient": "top-left"}}}},
  {"data": {"name": "s2"}, "mark": {"type": "line", "strokeWidth": 1, "clip": true},
   "encoding": {"x": {"field": "w", "type": "quantitative", "axis": null}, "y": {"field": "f", "type": "quantitative", "axis": null}, "color": {"datum": "synt.", "type": "nominal"}}},
  {"data": {"name": "s2"}, "mark": {"type": "point", "opacity": 0},
   "encoding": {"x": {"field": "w", "type": "quantitative", "axis": {"orient": "top", "values": [3500,4000,4500,5000,5500,6000,6500,7000], "labels": false, "domain": false, "title": null, "tickSize": -3.7}},
    "y": {"field": "f", "type": "quantitative", "axis": {"orient": "right", "values": [1.5,2,2.5,3], "labels": false, "domain": false, "title": null, "tickSize": -3.7}}}},
  {"data": {"name": "s2"}, "mark": {"type": "point", "opacity": 0},
   "encoding": {"x": {"field": "w", "type": "quantitative", "axis": {"orient": "top", "values": [3600,3700,3800,3900,4000,4100,4200,4300,4400,4500,4600,4700,4800,4900,5000,5100,5200,5300,5400,5500,5600,5700,5800,5900,6000,6100,6200,6300,6400,6500,6600,6700,6800,6900], "labels": false, "domain": false, "title": null, "tickSize": -2}},
    "y": {"field": "f", "type": "quantitative", "axis": {"orient": "right", "values": [1.1,1.2,1.3,1.4,1.5,1.6,1.7,1.8,1.9,2,2.1,2.2,2.3,2.4,2.5,2.6,2.7,2.8,2.9,3,3.1], "labels": false, "domain": false, "title": null, "tickSize": -2}}}},
  {"data": {"name": "s2"}, "mark": {"type": "point", "opacity": 0},
   "encoding": {"x": {"field": "w", "type": "quantitative", "axis": {"orient": "bottom", "values": [3600,3700,3800,3900,4000,4100,4200,4300,4400,4500,4600,4700,4800,4900,5000,5100,5200,5300,5400,5500,5600,5700,5800,5900,6000,6100,6200,6300,6400,6500,6600,6700,6800,6900], "labels": false, "domain": false, "title": null, "tickSize": -2}},
    "y": {"field": "f", "type": "quantitative", "axis": {"orient": "left", "values": [1.1,1.2,1.3,1.4,1.5,1.6,1.7,1.8,1.9,2,2.1,2.2,2.3,2.4,2.5,2.6,2.7,2.8,2.9,3,3.1], "labels": false, "domain": false, "title": null, "tickSize": -2}}}}
 ]},
{"width": 34, "height": 180, "resolve": {"scale": {"y": "independent"}},
 "layer": [
  {"data": {"name": "t2"}, "mark": {"type": "text", "fontSize": 6.2, "dx": -36, "align": "center", "baseline": "middle"},
   "encoding": {"y": {"field": "n", "type": "quantitative", "scale": {"domain": [1, 4], "range": [7.7, 32], "nice": false, "zero": false}, "axis": null}, "text": {"field": "t"}}},
  {"data": {"name": "x2"},
   "encoding": {"x": {"field": "c", "type": "nominal", "sort": ["y","i","o"], "scale": {"domain": ["y","i","o"], "paddingInner": 0.15, "paddingOuter": 0.14, "align": 0.1}, "axis": null}},
   "layer": [
    {"mark": {"type": "bar"}, "encoding": {"y": {"field": "v", "type": "quantitative", "scale": {"domain": [0, 40], "range": [152, 86], "nice": false, "zero": false}, "axis": {"orient": "left", "values": [0,5,10,15,20,25,30,35,40], "format": "d", "labelExpr": "indexof([0,10,20,30,40], datum.value) >= 0 ? datum.label : ''", "labelAngle": -90, "labelAlign": "center", "labelBaseline": "bottom", "title": "xⱼ (%)", "titlePadding": 18}}, "color": {"field": "c", "type": "nominal", "scale": {"domain": ["y","i","o"], "range": ["#0000ff","#00ff00","#ff0000"]}, "legend": null}}},
    {"mark": {"type": "rule", "color": "black", "strokeWidth": 0.8}, "encoding": {"y": {"field": "lo", "type": "quantitative"}, "y2": {"field": "hi"}}},
    {"mark": {"type": "tick", "color": "black", "thickness": 0.8, "size": 9}, "encoding": {"y": {"field": "clo", "type": "quantitative"}}},
    {"mark": {"type": "tick", "color": "black", "thickness": 0.8, "size": 9}, "encoding": {"y": {"field": "chi", "type": "quantitative"}}}
   ]}
 ]},

{"width": 183, "height": 55, "view": {"stroke": "black", "strokeWidth": 0.8},
 "resolve": {"axis": {"x": "independent", "y": "independent"}},
 "layer": [
  {"data": {"name": "r1"}, "mark": {"type": "line", "color": "black", "strokeWidth": 0.7, "clip": true},
   "encoding": {"x": {"field": "w", "type": "quantitative", "scale": {"domain": [3500, 7000], "nice": false, "zero": false}, "axis": {"orient": "bottom", "values": [3500,4000,4500,5000,5500,6000,6500,7000], "format": "d", "title": "Wavelength (Å)", "titlePadding": 9}},
    "y": {"field": "r", "type": "quantitative", "scale": {"domain": [-5.8, 5.7], "nice": false, "zero": false}, "axis": {"orient": "left", "values": [-4,-2,0,2,4], "format": "~g", "labelExpr": "indexof([-4,0,4], datum.value) >= 0 ? datum.label : ''", "labelAngle": -90, "labelAlign": "center", "labelBaseline": "bottom", "title": "Fₒᵦₛ − Fₛᵧₙₜ", "titlePadding": 13}}}},
  {"data": {"values": [{}]}, "mark": {"type": "rule", "color": "#ff0000", "strokeDash": [4, 3], "strokeWidth": 1}, "encoding": {"y": {"datum": 0, "axis": null}}},
  {"data": {"name": "r1"}, "mark": {"type": "point", "opacity": 0},
   "encoding": {"x": {"field": "w", "type": "quantitative", "axis": {"orient": "top", "values": [3500,4000,4500,5000,5500,6000,6500,7000], "labels": false, "domain": false, "title": null, "tickSize": -3.7}},
    "y": {"field": "r", "type": "quantitative", "axis": {"orient": "right", "values": [-4,-2,0,2,4], "labels": false, "domain": false, "title": null, "tickSize": -3.7}}}},
  {"data": {"name": "r1"}, "mark": {"type": "point", "opacity": 0},
   "encoding": {"x": {"field": "w", "type": "quantitative", "axis": {"orient": "top", "values": [3600,3700,3800,3900,4000,4100,4200,4300,4400,4500,4600,4700,4800,4900,5000,5100,5200,5300,5400,5500,5600,5700,5800,5900,6000,6100,6200,6300,6400,6500,6600,6700,6800,6900], "labels": false, "domain": false, "title": null, "tickSize": -2}},
    "y": {"field": "r", "type": "quantitative", "axis": {"orient": "right", "values": [-5,-4,-3,-2,-1,0,1,2,3,4,5], "labels": false, "domain": false, "title": null, "tickSize": -2}}}},
  {"data": {"name": "r1"}, "mark": {"type": "point", "opacity": 0},
   "encoding": {"x": {"field": "w", "type": "quantitative", "axis": {"orient": "bottom", "values": [3600,3700,3800,3900,4000,4100,4200,4300,4400,4500,4600,4700,4800,4900,5000,5100,5200,5300,5400,5500,5600,5700,5800,5900,6000,6100,6200,6300,6400,6500,6600,6700,6800,6900], "labels": false, "domain": false, "title": null, "tickSize": -2}},
    "y": {"field": "r", "type": "quantitative", "axis": {"orient": "left", "values": [-5,-4,-3,-2,-1,0,1,2,3,4,5], "labels": false, "domain": false, "title": null, "tickSize": -2}}}}
 ]},
{"width": 38, "height": 55, "data": {"name": "m1"},
 "encoding": {"x": {"field": "c", "type": "nominal", "sort": ["y","i","o"], "scale": {"domain": ["y","i","o"], "paddingInner": 0.15, "paddingOuter": 0.33, "align": 0.05}, "axis": {"orient": "bottom", "title": null, "domain": false, "ticks": false, "labelAngle": 0, "labelPadding": 21, "labelFontSize": 7.5}}},
 "layer": [
  {"mark": {"type": "bar"}, "encoding": {"y": {"field": "v", "type": "quantitative", "scale": {"domain": [0, 60], "range": [55, -14.3], "nice": false, "zero": false}, "axis": {"orient": "left", "values": [0,10,20,30,40,50,60], "format": "d", "labelExpr": "indexof([0,20,40,60], datum.value) >= 0 ? datum.label : ''", "labelAngle": -90, "labelAlign": "center", "labelBaseline": "bottom", "title": "mⱼ [%]", "titlePadding": 18}}, "color": {"field": "c", "type": "nominal", "scale": {"domain": ["y","i","o"], "range": ["#0000ff","#00ff00","#ff0000"]}, "legend": null}}},
  {"mark": {"type": "rule", "color": "black", "strokeWidth": 0.8}, "encoding": {"y": {"field": "lo", "type": "quantitative"}, "y2": {"field": "hi"}}},
  {"mark": {"type": "tick", "color": "black", "thickness": 0.8, "size": 9}, "encoding": {"y": {"field": "clo", "type": "quantitative"}}},
  {"mark": {"type": "tick", "color": "black", "thickness": 0.8, "size": 9}, "encoding": {"y": {"field": "chi", "type": "quantitative"}}}
 ]},
{"width": 183, "height": 55, "view": {"stroke": "black", "strokeWidth": 0.8},
 "resolve": {"axis": {"x": "independent", "y": "independent"}},
 "layer": [
  {"data": {"name": "r2"}, "mark": {"type": "line", "color": "black", "strokeWidth": 0.7, "clip": true},
   "encoding": {"x": {"field": "w", "type": "quantitative", "scale": {"domain": [3500, 7000], "nice": false, "zero": false}, "axis": {"orient": "bottom", "values": [3500,4000,4500,5000,5500,6000,6500,7000], "format": "d", "title": "Wavelength (Å)", "titlePadding": 9}},
    "y": {"field": "r", "type": "quantitative", "scale": {"domain": [-5.8, 5.7], "nice": false, "zero": false}, "axis": {"orient": "left", "values": [-4,-2,0,2,4], "format": "~g", "labelExpr": "indexof([-4,0,4], datum.value) >= 0 ? datum.label : ''", "labelAngle": -90, "labelAlign": "center", "labelBaseline": "bottom", "title": "Fₒᵦₛ − Fₛᵧₙₜ", "titlePadding": 13}}}},
  {"data": {"values": [{}]}, "mark": {"type": "rule", "color": "#ff0000", "strokeDash": [4, 3], "strokeWidth": 1}, "encoding": {"y": {"datum": 0, "axis": null}}},
  {"data": {"name": "r2"}, "mark": {"type": "point", "opacity": 0},
   "encoding": {"x": {"field": "w", "type": "quantitative", "axis": {"orient": "top", "values": [3500,4000,4500,5000,5500,6000,6500,7000], "labels": false, "domain": false, "title": null, "tickSize": -3.7}},
    "y": {"field": "r", "type": "quantitative", "axis": {"orient": "right", "values": [-4,-2,0,2,4], "labels": false, "domain": false, "title": null, "tickSize": -3.7}}}},
  {"data": {"name": "r2"}, "mark": {"type": "point", "opacity": 0},
   "encoding": {"x": {"field": "w", "type": "quantitative", "axis": {"orient": "top", "values": [3600,3700,3800,3900,4000,4100,4200,4300,4400,4500,4600,4700,4800,4900,5000,5100,5200,5300,5400,5500,5600,5700,5800,5900,6000,6100,6200,6300,6400,6500,6600,6700,6800,6900], "labels": false, "domain": false, "title": null, "tickSize": -2}},
    "y": {"field": "r", "type": "quantitative", "axis": {"orient": "right", "values": [-5,-4,-3,-2,-1,0,1,2,3,4,5], "labels": false, "domain": false, "title": null, "tickSize": -2}}}},
  {"data": {"name": "r2"}, "mark": {"type": "point", "opacity": 0},
   "encoding": {"x": {"field": "w", "type": "quantitative", "axis": {"orient": "bottom", "values": [3600,3700,3800,3900,4000,4100,4200,4300,4400,4500,4600,4700,4800,4900,5000,5100,5200,5300,5400,5500,5600,5700,5800,5900,6000,6100,6200,6300,6400,6500,6600,6700,6800,6900], "labels": false, "domain": false, "title": null, "tickSize": -2}},
    "y": {"field": "r", "type": "quantitative", "axis": {"orient": "left", "values": [-5,-4,-3,-2,-1,0,1,2,3,4,5], "labels": false, "domain": false, "title": null, "tickSize": -2}}}}
 ]},
{"width": 34, "height": 55, "data": {"name": "m2"},
 "encoding": {"x": {"field": "c", "type": "nominal", "sort": ["y","i","o"], "scale": {"domain": ["y","i","o"], "paddingInner": 0.15, "paddingOuter": 0.14, "align": 0.1}, "axis": {"orient": "bottom", "title": null, "domain": false, "ticks": false, "labelAngle": 0, "labelPadding": 11, "labelFontSize": 7.5}}},
 "layer": [
  {"mark": {"type": "bar"}, "encoding": {"y": {"field": "v", "type": "quantitative", "scale": {"domain": [0, 100], "range": [55, -17.3], "nice": false, "zero": false}, "axis": {"orient": "left", "values": [0,20,40,60,80,100], "format": "d", "labelExpr": "indexof([0,20,60,100], datum.value) >= 0 ? datum.label : ''", "labelAngle": -90, "labelAlign": "center", "labelBaseline": "bottom", "title": "mⱼ [%]", "titlePadding": 18}}, "color": {"field": "c", "type": "nominal", "scale": {"domain": ["y","i","o"], "range": ["#0000ff","#00ff00","#ff0000"]}, "legend": null}}},
  {"mark": {"type": "rule", "color": "black", "strokeWidth": 0.8}, "encoding": {"y": {"field": "lo", "type": "quantitative"}, "y2": {"field": "hi"}}},
  {"mark": {"type": "tick", "color": "black", "thickness": 0.8, "size": 9}, "encoding": {"y": {"field": "clo", "type": "quantitative"}}},
  {"mark": {"type": "tick", "color": "black", "thickness": 0.8, "size": 9}, "encoding": {"y": {"field": "chi", "type": "quantitative"}}}
 ]},

{"width": 183, "height": 78, "data": {"values": []}, "mark": "point", "encoding": {}},
{"width": 38, "height": 1, "data": {"values": []}, "mark": "point", "encoding": {}},
{"width": 183, "height": 1, "data": {"values": []}, "mark": "point", "encoding": {}},
{"width": 34, "height": 1, "data": {"values": []}, "mark": "point", "encoding": {}},

{"width": 183, "height": 180, "view": {"stroke": "black", "strokeWidth": 0.8}, "title": {"text": "J1316+1753"},
 "resolve": {"axis": {"x": "independent", "y": "independent"}},
 "layer": [
  {"data": {"name": "o3"}, "mark": {"type": "line", "strokeWidth": 0.8, "clip": true},
   "encoding": {"x": {"field": "w", "type": "quantitative", "scale": {"domain": [3500, 7000], "nice": false, "zero": false}, "axis": {"orient": "bottom", "values": [3500,4000,4500,5000,5500,6000,6500,7000], "labels": false, "title": null}},
    "y": {"field": "f", "type": "quantitative", "scale": {"domain": [0.77, 2.89], "nice": false, "zero": false}, "axis": {"orient": "left", "values": [1,1.5,2,2.5], "format": "~g", "labelAngle": -90, "labelAlign": "center", "labelBaseline": "bottom", "title": "Log Flux (1x10⁻¹⁷erg/cm²/s/Å)", "titlePadding": 13}},
    "color": {"datum": "obs", "type": "nominal", "scale": {"domain": ["obs", "synt."], "range": ["black", "#ff0000"]}, "legend": {"orient": "top-left"}}}},
  {"data": {"name": "s3"}, "mark": {"type": "line", "strokeWidth": 1, "clip": true},
   "encoding": {"x": {"field": "w", "type": "quantitative", "axis": null}, "y": {"field": "f", "type": "quantitative", "axis": null}, "color": {"datum": "synt.", "type": "nominal"}}},
  {"data": {"name": "s3"}, "mark": {"type": "point", "opacity": 0},
   "encoding": {"x": {"field": "w", "type": "quantitative", "axis": {"orient": "top", "values": [3500,4000,4500,5000,5500,6000,6500,7000], "labels": false, "domain": false, "title": null, "tickSize": -3.7}},
    "y": {"field": "f", "type": "quantitative", "axis": {"orient": "right", "values": [1,1.5,2,2.5], "labels": false, "domain": false, "title": null, "tickSize": -3.7}}}},
  {"data": {"name": "s3"}, "mark": {"type": "point", "opacity": 0},
   "encoding": {"x": {"field": "w", "type": "quantitative", "axis": {"orient": "top", "values": [3600,3700,3800,3900,4000,4100,4200,4300,4400,4500,4600,4700,4800,4900,5000,5100,5200,5300,5400,5500,5600,5700,5800,5900,6000,6100,6200,6300,6400,6500,6600,6700,6800,6900], "labels": false, "domain": false, "title": null, "tickSize": -2}},
    "y": {"field": "f", "type": "quantitative", "axis": {"orient": "right", "values": [0.8,0.9,1,1.1,1.2,1.3,1.4,1.5,1.6,1.7,1.8,1.9,2,2.1,2.2,2.3,2.4,2.5,2.6,2.7,2.8], "labels": false, "domain": false, "title": null, "tickSize": -2}}}},
  {"data": {"name": "s3"}, "mark": {"type": "point", "opacity": 0},
   "encoding": {"x": {"field": "w", "type": "quantitative", "axis": {"orient": "bottom", "values": [3600,3700,3800,3900,4000,4100,4200,4300,4400,4500,4600,4700,4800,4900,5000,5100,5200,5300,5400,5500,5600,5700,5800,5900,6000,6100,6200,6300,6400,6500,6600,6700,6800,6900], "labels": false, "domain": false, "title": null, "tickSize": -2}},
    "y": {"field": "f", "type": "quantitative", "axis": {"orient": "left", "values": [0.8,0.9,1,1.1,1.2,1.3,1.4,1.5,1.6,1.7,1.8,1.9,2,2.1,2.2,2.3,2.4,2.5,2.6,2.7,2.8], "labels": false, "domain": false, "title": null, "tickSize": -2}}}}
 ]},
{"width": 38, "height": 180, "resolve": {"scale": {"y": "independent"}},
 "layer": [
  {"data": {"name": "t3"}, "mark": {"type": "text", "fontSize": 6.2, "dx": -34, "align": "center", "baseline": "middle"},
   "encoding": {"y": {"field": "n", "type": "quantitative", "scale": {"domain": [1, 4], "range": [4.3, 29.3], "nice": false, "zero": false}, "axis": null}, "text": {"field": "t"}}},
  {"data": {"name": "x3"},
   "encoding": {"x": {"field": "c", "type": "nominal", "sort": ["y","i","o"], "scale": {"domain": ["y","i","o"], "paddingInner": 0.15, "paddingOuter": 0.33, "align": 0.05}, "axis": null}},
   "layer": [
    {"mark": {"type": "bar"}, "encoding": {"y": {"field": "v", "type": "quantitative", "scale": {"domain": [0, 40], "range": [152, 87], "nice": false, "zero": false}, "axis": {"orient": "left", "values": [0,5,10,15,20,25,30,35,40], "format": "d", "labelExpr": "indexof([0,10,20,30,40], datum.value) >= 0 ? datum.label : ''", "labelAngle": -90, "labelAlign": "center", "labelBaseline": "bottom", "title": "xⱼ (%)", "titlePadding": 18}}, "color": {"field": "c", "type": "nominal", "scale": {"domain": ["y","i","o"], "range": ["#0000ff","#00ff00","#ff0000"]}, "legend": null}}},
    {"mark": {"type": "rule", "color": "black", "strokeWidth": 0.8}, "encoding": {"y": {"field": "lo", "type": "quantitative"}, "y2": {"field": "hi"}}},
    {"mark": {"type": "tick", "color": "black", "thickness": 0.8, "size": 9}, "encoding": {"y": {"field": "clo", "type": "quantitative"}}},
    {"mark": {"type": "tick", "color": "black", "thickness": 0.8, "size": 9}, "encoding": {"y": {"field": "chi", "type": "quantitative"}}}
   ]}
 ]},
{"width": 183, "height": 180, "view": {"stroke": "black", "strokeWidth": 0.8}, "title": {"text": "4C+39.32"},
 "resolve": {"axis": {"x": "independent", "y": "independent"}},
 "layer": [
  {"data": {"name": "o4"}, "mark": {"type": "line", "strokeWidth": 0.8, "clip": true},
   "encoding": {"x": {"field": "w", "type": "quantitative", "scale": {"domain": [3500, 7000], "nice": false, "zero": false}, "axis": {"orient": "bottom", "values": [3500,4000,4500,5000,5500,6000,6500,7000], "labels": false, "title": null}},
    "y": {"field": "f", "type": "quantitative", "scale": {"domain": [0.254, 1.41], "nice": false, "zero": false}, "axis": {"orient": "left", "values": [0.4,0.6,0.8,1,1.2,1.4], "format": "~g", "labelAngle": -90, "labelAlign": "center", "labelBaseline": "bottom", "title": "Log Flux (1x10⁻¹⁷erg/cm²/s/Å)", "titlePadding": 13}},
    "color": {"datum": "obs", "type": "nominal", "scale": {"domain": ["obs", "synt."], "range": ["black", "#ff0000"]}, "legend": {"orient": "top-left"}}}},
  {"data": {"name": "s4"}, "mark": {"type": "line", "strokeWidth": 1, "clip": true},
   "encoding": {"x": {"field": "w", "type": "quantitative", "axis": null}, "y": {"field": "f", "type": "quantitative", "axis": null}, "color": {"datum": "synt.", "type": "nominal"}}},
  {"data": {"name": "s4"}, "mark": {"type": "point", "opacity": 0},
   "encoding": {"x": {"field": "w", "type": "quantitative", "axis": {"orient": "top", "values": [3500,4000,4500,5000,5500,6000,6500,7000], "labels": false, "domain": false, "title": null, "tickSize": -3.7}},
    "y": {"field": "f", "type": "quantitative", "axis": {"orient": "right", "values": [0.4,0.6,0.8,1,1.2,1.4], "labels": false, "domain": false, "title": null, "tickSize": -3.7}}}},
  {"data": {"name": "s4"}, "mark": {"type": "point", "opacity": 0},
   "encoding": {"x": {"field": "w", "type": "quantitative", "axis": {"orient": "top", "values": [3600,3700,3800,3900,4000,4100,4200,4300,4400,4500,4600,4700,4800,4900,5000,5100,5200,5300,5400,5500,5600,5700,5800,5900,6000,6100,6200,6300,6400,6500,6600,6700,6800,6900], "labels": false, "domain": false, "title": null, "tickSize": -2}},
    "y": {"field": "f", "type": "quantitative", "axis": {"orient": "right", "values": [0.28,0.32,0.36,0.4,0.44,0.48,0.52,0.56,0.6,0.64,0.68,0.72,0.76,0.8,0.84,0.88,0.92,0.96,1,1.04,1.08,1.12,1.16,1.2,1.24,1.28,1.32,1.36,1.4], "labels": false, "domain": false, "title": null, "tickSize": -2}}}},
  {"data": {"name": "s4"}, "mark": {"type": "point", "opacity": 0},
   "encoding": {"x": {"field": "w", "type": "quantitative", "axis": {"orient": "bottom", "values": [3600,3700,3800,3900,4000,4100,4200,4300,4400,4500,4600,4700,4800,4900,5000,5100,5200,5300,5400,5500,5600,5700,5800,5900,6000,6100,6200,6300,6400,6500,6600,6700,6800,6900], "labels": false, "domain": false, "title": null, "tickSize": -2}},
    "y": {"field": "f", "type": "quantitative", "axis": {"orient": "left", "values": [0.28,0.32,0.36,0.4,0.44,0.48,0.52,0.56,0.6,0.64,0.68,0.72,0.76,0.8,0.84,0.88,0.92,0.96,1,1.04,1.08,1.12,1.16,1.2,1.24,1.28,1.32,1.36,1.4], "labels": false, "domain": false, "title": null, "tickSize": -2}}}}
 ]},
{"width": 34, "height": 180, "resolve": {"scale": {"y": "independent"}},
 "layer": [
  {"data": {"name": "t4"}, "mark": {"type": "text", "fontSize": 6.2, "dx": -32, "align": "center", "baseline": "middle"},
   "encoding": {"y": {"field": "n", "type": "quantitative", "scale": {"domain": [1, 4], "range": [17, 62], "nice": false, "zero": false}, "axis": null}, "text": {"field": "t"}}},
  {"data": {"name": "x4"},
   "encoding": {"x": {"field": "c", "type": "nominal", "sort": ["y","i","o"], "scale": {"domain": ["y","i","o"], "paddingInner": 0.15, "paddingOuter": 0.14, "align": 0.1}, "axis": null}},
   "layer": [
    {"mark": {"type": "bar"}, "encoding": {"y": {"field": "v", "type": "quantitative", "scale": {"domain": [0, 35], "range": [152, 81.2], "nice": false, "zero": false}, "axis": {"orient": "left", "values": [0,5,10,15,20,25,30,35], "format": "d", "labelExpr": "indexof([0,10,20,30], datum.value) >= 0 ? datum.label : ''", "labelAngle": -90, "labelAlign": "center", "labelBaseline": "bottom", "title": "xⱼ (%)", "titlePadding": 18}}, "color": {"field": "c", "type": "nominal", "scale": {"domain": ["y","i","o"], "range": ["#0000ff","#00ff00","#ff0000"]}, "legend": null}}},
    {"mark": {"type": "rule", "color": "black", "strokeWidth": 0.8}, "encoding": {"y": {"field": "lo", "type": "quantitative"}, "y2": {"field": "hi"}}},
    {"mark": {"type": "tick", "color": "black", "thickness": 0.8, "size": 9}, "encoding": {"y": {"field": "clo", "type": "quantitative"}}},
    {"mark": {"type": "tick", "color": "black", "thickness": 0.8, "size": 9}, "encoding": {"y": {"field": "chi", "type": "quantitative"}}}
   ]}
 ]},

{"width": 183, "height": 55, "view": {"stroke": "black", "strokeWidth": 0.8},
 "resolve": {"axis": {"x": "independent", "y": "independent"}},
 "layer": [
  {"data": {"name": "r3"}, "mark": {"type": "line", "color": "black", "strokeWidth": 0.7, "clip": true},
   "encoding": {"x": {"field": "w", "type": "quantitative", "scale": {"domain": [3500, 7000], "nice": false, "zero": false}, "axis": {"orient": "bottom", "values": [3500,4000,4500,5000,5500,6000,6500,7000], "format": "d", "title": "Wavelength (Å)", "titlePadding": 9}},
    "y": {"field": "r", "type": "quantitative", "scale": {"domain": [-5.8, 5.7], "nice": false, "zero": false}, "axis": {"orient": "left", "values": [-4,-2,0,2,4], "format": "~g", "labelExpr": "indexof([-4,0,4], datum.value) >= 0 ? datum.label : ''", "labelAngle": -90, "labelAlign": "center", "labelBaseline": "bottom", "title": "Fₒᵦₛ − Fₛᵧₙₜ", "titlePadding": 13}}}},
  {"data": {"values": [{}]}, "mark": {"type": "rule", "color": "#ff0000", "strokeDash": [4, 3], "strokeWidth": 1}, "encoding": {"y": {"datum": 0, "axis": null}}},
  {"data": {"name": "r3"}, "mark": {"type": "point", "opacity": 0},
   "encoding": {"x": {"field": "w", "type": "quantitative", "axis": {"orient": "top", "values": [3500,4000,4500,5000,5500,6000,6500,7000], "labels": false, "domain": false, "title": null, "tickSize": -3.7}},
    "y": {"field": "r", "type": "quantitative", "axis": {"orient": "right", "values": [-4,-2,0,2,4], "labels": false, "domain": false, "title": null, "tickSize": -3.7}}}},
  {"data": {"name": "r3"}, "mark": {"type": "point", "opacity": 0},
   "encoding": {"x": {"field": "w", "type": "quantitative", "axis": {"orient": "top", "values": [3600,3700,3800,3900,4000,4100,4200,4300,4400,4500,4600,4700,4800,4900,5000,5100,5200,5300,5400,5500,5600,5700,5800,5900,6000,6100,6200,6300,6400,6500,6600,6700,6800,6900], "labels": false, "domain": false, "title": null, "tickSize": -2}},
    "y": {"field": "r", "type": "quantitative", "axis": {"orient": "right", "values": [-5,-4,-3,-2,-1,0,1,2,3,4,5], "labels": false, "domain": false, "title": null, "tickSize": -2}}}},
  {"data": {"name": "r3"}, "mark": {"type": "point", "opacity": 0},
   "encoding": {"x": {"field": "w", "type": "quantitative", "axis": {"orient": "bottom", "values": [3600,3700,3800,3900,4000,4100,4200,4300,4400,4500,4600,4700,4800,4900,5000,5100,5200,5300,5400,5500,5600,5700,5800,5900,6000,6100,6200,6300,6400,6500,6600,6700,6800,6900], "labels": false, "domain": false, "title": null, "tickSize": -2}},
    "y": {"field": "r", "type": "quantitative", "axis": {"orient": "left", "values": [-5,-4,-3,-2,-1,0,1,2,3,4,5], "labels": false, "domain": false, "title": null, "tickSize": -2}}}}
 ]},
{"width": 38, "height": 55, "data": {"name": "m3"},
 "encoding": {"x": {"field": "c", "type": "nominal", "sort": ["y","i","o"], "scale": {"domain": ["y","i","o"], "paddingInner": 0.15, "paddingOuter": 0.33, "align": 0.05}, "axis": {"orient": "bottom", "title": null, "domain": false, "ticks": false, "labelAngle": 0, "labelPadding": 11, "labelFontSize": 7.5}}},
 "layer": [
  {"mark": {"type": "bar"}, "encoding": {"y": {"field": "v", "type": "quantitative", "scale": {"domain": [0, 100], "range": [55, -15], "nice": false, "zero": false}, "axis": {"orient": "left", "values": [0,20,40,60,80,100], "format": "d", "labelExpr": "indexof([0,20,60,100], datum.value) >= 0 ? datum.label : ''", "labelAngle": -90, "labelAlign": "center", "labelBaseline": "bottom", "title": "mⱼ [%]", "titlePadding": 18}}, "color": {"field": "c", "type": "nominal", "scale": {"domain": ["y","i","o"], "range": ["#0000ff","#00ff00","#ff0000"]}, "legend": null}}},
  {"mark": {"type": "rule", "color": "black", "strokeWidth": 0.8}, "encoding": {"y": {"field": "lo", "type": "quantitative"}, "y2": {"field": "hi"}}},
  {"mark": {"type": "tick", "color": "black", "thickness": 0.8, "size": 9}, "encoding": {"y": {"field": "clo", "type": "quantitative"}}},
  {"mark": {"type": "tick", "color": "black", "thickness": 0.8, "size": 9}, "encoding": {"y": {"field": "chi", "type": "quantitative"}}}
 ]},
{"width": 183, "height": 55, "view": {"stroke": "black", "strokeWidth": 0.8},
 "resolve": {"axis": {"x": "independent", "y": "independent"}},
 "layer": [
  {"data": {"name": "r4"}, "mark": {"type": "line", "color": "black", "strokeWidth": 0.7, "clip": true},
   "encoding": {"x": {"field": "w", "type": "quantitative", "scale": {"domain": [3500, 7000], "nice": false, "zero": false}, "axis": {"orient": "bottom", "values": [3500,4000,4500,5000,5500,6000,6500,7000], "format": "d", "title": "Wavelength (Å)", "titlePadding": 9}},
    "y": {"field": "r", "type": "quantitative", "scale": {"domain": [-5.8, 5.7], "nice": false, "zero": false}, "axis": {"orient": "left", "values": [-4,-2,0,2,4], "format": "~g", "labelExpr": "indexof([-4,0,4], datum.value) >= 0 ? datum.label : ''", "labelAngle": -90, "labelAlign": "center", "labelBaseline": "bottom", "title": "Fₒᵦₛ − Fₛᵧₙₜ", "titlePadding": 13}}}},
  {"data": {"values": [{}]}, "mark": {"type": "rule", "color": "#ff0000", "strokeDash": [4, 3], "strokeWidth": 1}, "encoding": {"y": {"datum": 0, "axis": null}}},
  {"data": {"name": "r4"}, "mark": {"type": "point", "opacity": 0},
   "encoding": {"x": {"field": "w", "type": "quantitative", "axis": {"orient": "top", "values": [3500,4000,4500,5000,5500,6000,6500,7000], "labels": false, "domain": false, "title": null, "tickSize": -3.7}},
    "y": {"field": "r", "type": "quantitative", "axis": {"orient": "right", "values": [-4,-2,0,2,4], "labels": false, "domain": false, "title": null, "tickSize": -3.7}}}},
  {"data": {"name": "r4"}, "mark": {"type": "point", "opacity": 0},
   "encoding": {"x": {"field": "w", "type": "quantitative", "axis": {"orient": "top", "values": [3600,3700,3800,3900,4000,4100,4200,4300,4400,4500,4600,4700,4800,4900,5000,5100,5200,5300,5400,5500,5600,5700,5800,5900,6000,6100,6200,6300,6400,6500,6600,6700,6800,6900], "labels": false, "domain": false, "title": null, "tickSize": -2}},
    "y": {"field": "r", "type": "quantitative", "axis": {"orient": "right", "values": [-5,-4,-3,-2,-1,0,1,2,3,4,5], "labels": false, "domain": false, "title": null, "tickSize": -2}}}},
  {"data": {"name": "r4"}, "mark": {"type": "point", "opacity": 0},
   "encoding": {"x": {"field": "w", "type": "quantitative", "axis": {"orient": "bottom", "values": [3600,3700,3800,3900,4000,4100,4200,4300,4400,4500,4600,4700,4800,4900,5000,5100,5200,5300,5400,5500,5600,5700,5800,5900,6000,6100,6200,6300,6400,6500,6600,6700,6800,6900], "labels": false, "domain": false, "title": null, "tickSize": -2}},
    "y": {"field": "r", "type": "quantitative", "axis": {"orient": "left", "values": [-5,-4,-3,-2,-1,0,1,2,3,4,5], "labels": false, "domain": false, "title": null, "tickSize": -2}}}}
 ]},
{"width": 34, "height": 55, "data": {"name": "m4"},
 "encoding": {"x": {"field": "c", "type": "nominal", "sort": ["y","i","o"], "scale": {"domain": ["y","i","o"], "paddingInner": 0.15, "paddingOuter": 0.14, "align": 0.1}, "axis": {"orient": "bottom", "title": null, "domain": false, "ticks": false, "labelAngle": 0, "labelPadding": 11, "labelFontSize": 7.5}}},
 "layer": [
  {"mark": {"type": "bar"}, "encoding": {"y": {"field": "v", "type": "quantitative", "scale": {"domain": [0, 100], "range": [55, -19.4], "nice": false, "zero": false}, "axis": {"orient": "left", "values": [0,20,40,60,80,100], "format": "d", "labelExpr": "indexof([0,20,60,100], datum.value) >= 0 ? datum.label : ''", "labelAngle": -90, "labelAlign": "center", "labelBaseline": "bottom", "title": "mⱼ [%]", "titlePadding": 18}}, "color": {"field": "c", "type": "nominal", "scale": {"domain": ["y","i","o"], "range": ["#0000ff","#00ff00","#ff0000"]}, "legend": null}}},
  {"mark": {"type": "rule", "color": "black", "strokeWidth": 0.8}, "encoding": {"y": {"field": "lo", "type": "quantitative"}, "y2": {"field": "hi"}}},
  {"mark": {"type": "tick", "color": "black", "thickness": 0.8, "size": 9}, "encoding": {"y": {"field": "clo", "type": "quantitative"}}},
  {"mark": {"type": "tick", "color": "black", "thickness": 0.8, "size": 9}, "encoding": {"y": {"field": "chi", "type": "quantitative"}}}
 ]}
]
}
